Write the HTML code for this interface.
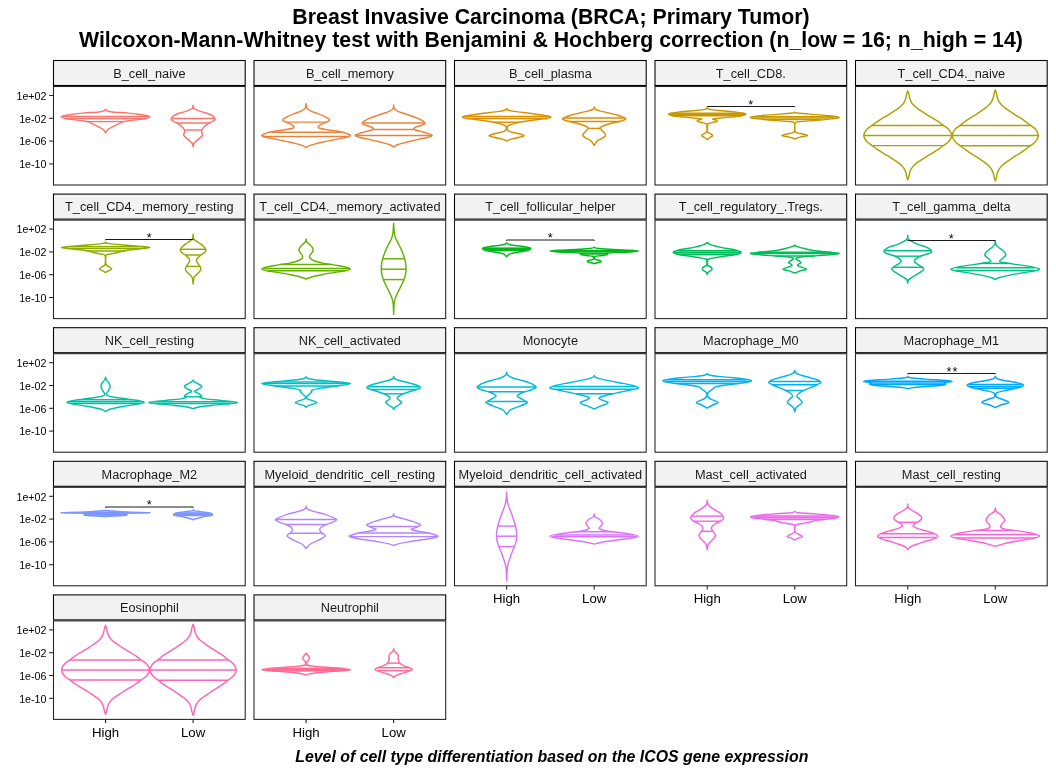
<!DOCTYPE html><html><head><meta charset="utf-8"><style>html,body{margin:0;padding:0;background:#fff;overflow:hidden;}svg{display:block;will-change:transform;}text{font-family:"Liberation Sans",Arial,sans-serif;}</style></head><body>
<svg width="1056" height="768" viewBox="0 0 1056 768">
<rect x="0" y="0" width="1056" height="768" fill="#fff"/>
<text transform="translate(551.0,23.8) scale(1,1.06)" x="0" y="0" font-size="21.33" font-weight="bold" text-anchor="middle" fill="#000">Breast Invasive Carcinoma (BRCA; Primary Tumor)</text>
<text transform="translate(550.9,46.8) scale(1,1.06)" x="0" y="0" font-size="21.33" font-weight="bold" text-anchor="middle" fill="#000">Wilcoxon-Mann-Whitney test with Benjamini &amp; Hochberg correction (n_low = 16; n_high = 14)</text>
<text x="551.8" y="761.5" font-size="15.88" font-weight="bold" font-style="italic" text-anchor="middle" fill="#000">Level of cell type differentiation based on the ICOS gene expression</text>
<rect x="53.50" y="60.50" width="191.70" height="25.00" fill="#F2F2F2" stroke="#000" stroke-width="1.07"/>
<text transform="translate(149.35,77.80) scale(1,1.04)" x="0" y="0" font-size="12.75" text-anchor="middle" fill="#1A1A1A">B_cell_naive</text>
<rect x="53.50" y="86.50" width="191.70" height="98.50" fill="#fff" stroke="#222" stroke-width="1.07"/>
<path d="M105.55,109.30 C106.00,109.63 106.73,110.82 108.25,111.30 C109.77,111.78 111.32,111.90 114.65,112.20 C117.98,112.50 124.02,112.72 128.25,113.10 C132.48,113.48 136.87,114.05 140.05,114.50 C143.23,114.95 145.72,115.35 147.35,115.80 C148.98,116.25 150.15,116.75 149.85,117.20 C149.55,117.65 147.93,118.05 145.55,118.50 C143.17,118.95 138.43,119.52 135.55,119.90 C132.67,120.28 130.37,120.50 128.25,120.80 C126.13,121.10 124.22,121.32 122.85,121.70 C121.48,122.08 121.12,122.57 120.05,123.10 C118.98,123.63 117.80,124.22 116.45,124.90 C115.10,125.58 113.38,126.43 111.95,127.20 C110.52,127.97 108.92,128.55 107.85,129.50 C106.78,130.45 105.93,132.33 105.55,132.90 L105.55,132.90 C105.17,132.33 104.32,130.45 103.25,129.50 C102.18,128.55 100.58,127.97 99.15,127.20 C97.72,126.43 96.00,125.58 94.65,124.90 C93.30,124.22 92.12,123.63 91.05,123.10 C89.98,122.57 89.62,122.08 88.25,121.70 C86.88,121.32 84.97,121.10 82.85,120.80 C80.73,120.50 78.43,120.28 75.55,119.90 C72.67,119.52 67.93,118.95 65.55,118.50 C63.17,118.05 61.55,117.65 61.25,117.20 C60.95,116.75 62.12,116.25 63.75,115.80 C65.38,115.35 67.87,114.95 71.05,114.50 C74.23,114.05 78.62,113.48 82.85,113.10 C87.08,112.72 93.12,112.50 96.45,112.20 C99.78,111.90 101.33,111.78 102.85,111.30 C104.37,110.82 105.10,109.63 105.55,109.30Z" fill="none" stroke="#F8766D" stroke-width="1.45" stroke-linejoin="round"/>
<line x1="62.50" y1="116.50" x2="148.60" y2="116.50" stroke="#F8766D" stroke-width="1.45"/>
<line x1="65.55" y1="118.50" x2="145.55" y2="118.50" stroke="#F8766D" stroke-width="1.45"/>
<line x1="87.65" y1="121.60" x2="123.45" y2="121.60" stroke="#F8766D" stroke-width="1.45"/>
<path d="M193.10,105.20 C193.22,105.75 193.47,107.85 193.80,108.50 C194.13,109.15 194.13,108.67 195.10,109.10 C196.07,109.53 197.77,110.45 199.60,111.10 C201.43,111.75 204.15,112.35 206.10,113.00 C208.05,113.65 210.00,114.35 211.30,115.00 C212.60,115.65 213.27,116.20 213.90,116.90 C214.53,117.60 215.32,118.43 215.10,119.20 C214.88,119.97 213.67,120.80 212.60,121.50 C211.53,122.20 209.95,122.65 208.70,123.40 C207.45,124.15 206.13,125.13 205.10,126.00 C204.07,126.87 203.03,127.95 202.50,128.60 C201.97,129.25 202.05,129.35 201.90,129.90 C201.75,130.45 201.50,131.13 201.60,131.90 C201.70,132.67 202.50,133.73 202.50,134.50 C202.50,135.27 202.25,135.73 201.60,136.50 C200.95,137.27 199.58,138.23 198.60,139.10 C197.62,139.97 196.50,140.95 195.70,141.70 C194.90,142.45 194.23,142.73 193.80,143.60 C193.37,144.47 193.22,146.35 193.10,146.90 L193.10,146.90 C192.98,146.35 192.83,144.47 192.40,143.60 C191.97,142.73 191.30,142.45 190.50,141.70 C189.70,140.95 188.58,139.97 187.60,139.10 C186.62,138.23 185.25,137.27 184.60,136.50 C183.95,135.73 183.70,135.27 183.70,134.50 C183.70,133.73 184.50,132.67 184.60,131.90 C184.70,131.13 184.45,130.45 184.30,129.90 C184.15,129.35 184.23,129.25 183.70,128.60 C183.17,127.95 182.13,126.87 181.10,126.00 C180.07,125.13 178.75,124.15 177.50,123.40 C176.25,122.65 174.67,122.20 173.60,121.50 C172.53,120.80 171.32,119.97 171.10,119.20 C170.88,118.43 171.67,117.60 172.30,116.90 C172.93,116.20 173.60,115.65 174.90,115.00 C176.20,114.35 178.15,113.65 180.10,113.00 C182.05,112.35 184.77,111.75 186.60,111.10 C188.43,110.45 190.13,109.53 191.10,109.10 C192.07,108.67 192.07,109.15 192.40,108.50 C192.73,107.85 192.98,105.75 193.10,105.20Z" fill="none" stroke="#F8766D" stroke-width="1.45" stroke-linejoin="round"/>
<line x1="171.49" y1="118.45" x2="214.71" y2="118.45" stroke="#F8766D" stroke-width="1.45"/>
<line x1="176.68" y1="123.00" x2="209.52" y2="123.00" stroke="#F8766D" stroke-width="1.45"/>
<line x1="184.31" y1="130.00" x2="201.88" y2="130.00" stroke="#F8766D" stroke-width="1.45"/>
<line x1="49.2" y1="95.50" x2="53.50" y2="95.50" stroke="#222" stroke-width="1.07"/>
<text x="46.4" y="99.80" font-size="10.67" text-anchor="end" fill="#000">1e+02</text>
<line x1="49.2" y1="118.30" x2="53.50" y2="118.30" stroke="#222" stroke-width="1.07"/>
<text x="46.4" y="122.60" font-size="10.67" text-anchor="end" fill="#000">1e-02</text>
<line x1="49.2" y1="141.10" x2="53.50" y2="141.10" stroke="#222" stroke-width="1.07"/>
<text x="46.4" y="145.40" font-size="10.67" text-anchor="end" fill="#000">1e-06</text>
<line x1="49.2" y1="163.90" x2="53.50" y2="163.90" stroke="#222" stroke-width="1.07"/>
<text x="46.4" y="168.20" font-size="10.67" text-anchor="end" fill="#000">1e-10</text>
<rect x="254.00" y="60.50" width="191.70" height="25.00" fill="#F2F2F2" stroke="#000" stroke-width="1.07"/>
<text transform="translate(349.85,77.80) scale(1,1.04)" x="0" y="0" font-size="12.75" text-anchor="middle" fill="#1A1A1A">B_cell_memory</text>
<rect x="254.00" y="86.50" width="191.70" height="98.50" fill="#fff" stroke="#222" stroke-width="1.07"/>
<path d="M306.10,103.60 C306.25,104.37 306.25,106.98 307.00,108.20 C307.75,109.42 308.78,110.00 310.60,110.90 C312.42,111.80 315.62,112.68 317.90,113.60 C320.18,114.52 322.55,115.57 324.30,116.40 C326.05,117.23 327.57,117.92 328.40,118.60 C329.23,119.28 329.68,119.88 329.30,120.50 C328.92,121.12 327.38,121.70 326.10,122.30 C324.82,122.90 322.88,123.42 321.60,124.10 C320.32,124.78 318.72,125.72 318.40,126.40 C318.08,127.08 317.97,127.60 319.70,128.20 C321.43,128.80 325.32,129.40 328.80,130.00 C332.28,130.60 337.57,131.20 340.60,131.80 C343.63,132.40 345.37,132.98 347.00,133.60 C348.63,134.22 350.55,134.88 350.40,135.50 C350.25,136.12 348.33,136.70 346.10,137.30 C343.87,137.90 340.33,138.42 337.00,139.10 C333.67,139.78 329.58,140.65 326.10,141.40 C322.62,142.15 318.98,142.85 316.10,143.60 C313.22,144.35 310.47,145.22 308.80,145.90 C307.13,146.58 306.55,147.40 306.10,147.70 L306.10,147.70 C305.65,147.40 305.07,146.58 303.40,145.90 C301.73,145.22 298.98,144.35 296.10,143.60 C293.22,142.85 289.58,142.15 286.10,141.40 C282.62,140.65 278.53,139.78 275.20,139.10 C271.87,138.42 268.33,137.90 266.10,137.30 C263.87,136.70 261.95,136.12 261.80,135.50 C261.65,134.88 263.57,134.22 265.20,133.60 C266.83,132.98 268.57,132.40 271.60,131.80 C274.63,131.20 279.92,130.60 283.40,130.00 C286.88,129.40 290.77,128.80 292.50,128.20 C294.23,127.60 294.12,127.08 293.80,126.40 C293.48,125.72 291.88,124.78 290.60,124.10 C289.32,123.42 287.38,122.90 286.10,122.30 C284.82,121.70 283.28,121.12 282.90,120.50 C282.52,119.88 282.97,119.28 283.80,118.60 C284.63,117.92 286.15,117.23 287.90,116.40 C289.65,115.57 292.02,114.52 294.30,113.60 C296.58,112.68 299.78,111.80 301.60,110.90 C303.42,110.00 304.45,109.42 305.20,108.20 C305.95,106.98 305.95,104.37 306.10,103.60Z" fill="none" stroke="#EC8239" stroke-width="1.45" stroke-linejoin="round"/>
<line x1="285.60" y1="122.10" x2="326.60" y2="122.10" stroke="#EC8239" stroke-width="1.45"/>
<line x1="271.60" y1="132.20" x2="340.60" y2="132.20" stroke="#EC8239" stroke-width="1.45"/>
<line x1="263.40" y1="136.50" x2="348.80" y2="136.50" stroke="#EC8239" stroke-width="1.45"/>
<path d="M393.65,105.00 C393.80,105.68 393.63,107.97 394.55,109.10 C395.47,110.23 397.03,110.90 399.15,111.80 C401.27,112.70 404.23,113.43 407.25,114.50 C410.27,115.57 414.67,117.13 417.25,118.20 C419.83,119.27 421.45,120.02 422.75,120.90 C424.05,121.78 425.35,122.73 425.05,123.50 C424.75,124.27 422.55,124.87 420.95,125.50 C419.35,126.13 416.58,126.67 415.45,127.30 C414.32,127.93 413.23,128.62 414.15,129.30 C415.07,129.98 418.62,130.68 420.95,131.40 C423.28,132.12 426.27,132.92 428.15,133.60 C430.03,134.28 432.25,134.88 432.25,135.50 C432.25,136.12 430.33,136.70 428.15,137.30 C425.97,137.90 422.48,138.35 419.15,139.10 C415.82,139.85 411.65,140.90 408.15,141.80 C404.65,142.70 400.57,143.67 398.15,144.50 C395.73,145.33 394.40,146.42 393.65,146.80 L393.65,146.80 C392.90,146.42 391.57,145.33 389.15,144.50 C386.73,143.67 382.65,142.70 379.15,141.80 C375.65,140.90 371.48,139.85 368.15,139.10 C364.82,138.35 361.33,137.90 359.15,137.30 C356.97,136.70 355.05,136.12 355.05,135.50 C355.05,134.88 357.27,134.28 359.15,133.60 C361.03,132.92 364.02,132.12 366.35,131.40 C368.68,130.68 372.23,129.98 373.15,129.30 C374.07,128.62 372.98,127.93 371.85,127.30 C370.72,126.67 367.95,126.13 366.35,125.50 C364.75,124.87 362.55,124.27 362.25,123.50 C361.95,122.73 363.25,121.78 364.55,120.90 C365.85,120.02 367.47,119.27 370.05,118.20 C372.63,117.13 377.03,115.57 380.05,114.50 C383.07,113.43 386.03,112.70 388.15,111.80 C390.27,110.90 391.83,110.23 392.75,109.10 C393.67,107.97 393.50,105.68 393.65,105.00Z" fill="none" stroke="#EC8239" stroke-width="1.45" stroke-linejoin="round"/>
<line x1="362.75" y1="122.90" x2="424.55" y2="122.90" stroke="#EC8239" stroke-width="1.45"/>
<line x1="373.15" y1="129.50" x2="414.15" y2="129.50" stroke="#EC8239" stroke-width="1.45"/>
<line x1="355.45" y1="135.50" x2="431.85" y2="135.50" stroke="#EC8239" stroke-width="1.45"/>
<rect x="454.50" y="60.50" width="191.70" height="25.00" fill="#F2F2F2" stroke="#000" stroke-width="1.07"/>
<text transform="translate(550.35,77.80) scale(1,1.04)" x="0" y="0" font-size="12.75" text-anchor="middle" fill="#1A1A1A">B_cell_plasma</text>
<rect x="454.50" y="86.50" width="191.70" height="98.50" fill="#fff" stroke="#222" stroke-width="1.07"/>
<path d="M506.65,108.60 C506.88,108.83 506.83,109.53 508.05,110.00 C509.27,110.47 511.15,110.95 513.95,111.40 C516.75,111.85 520.77,112.18 524.85,112.70 C528.93,113.22 534.82,113.97 538.45,114.50 C542.08,115.03 544.58,115.43 546.65,115.90 C548.72,116.37 551.15,116.85 550.85,117.30 C550.55,117.75 547.67,118.15 544.85,118.60 C542.03,119.05 537.73,119.47 533.95,120.00 C530.17,120.53 525.48,121.20 522.15,121.80 C518.82,122.40 516.23,122.98 513.95,123.60 C511.67,124.22 509.58,124.88 508.45,125.50 C507.32,126.12 507.37,126.70 507.15,127.30 C506.93,127.90 506.78,128.42 507.15,129.10 C507.52,129.78 507.77,130.72 509.35,131.40 C510.93,132.08 514.22,132.52 516.65,133.20 C519.08,133.88 523.50,134.82 523.95,135.50 C524.40,136.18 521.48,136.70 519.35,137.30 C517.22,137.90 513.27,138.50 511.15,139.10 C509.03,139.70 507.40,140.60 506.65,140.90 L506.65,140.90 C505.90,140.60 504.27,139.70 502.15,139.10 C500.03,138.50 496.08,137.90 493.95,137.30 C491.82,136.70 488.90,136.18 489.35,135.50 C489.80,134.82 494.22,133.88 496.65,133.20 C499.08,132.52 502.37,132.08 503.95,131.40 C505.53,130.72 505.78,129.78 506.15,129.10 C506.52,128.42 506.37,127.90 506.15,127.30 C505.93,126.70 505.98,126.12 504.85,125.50 C503.72,124.88 501.63,124.22 499.35,123.60 C497.07,122.98 494.48,122.40 491.15,121.80 C487.82,121.20 483.13,120.53 479.35,120.00 C475.57,119.47 471.27,119.05 468.45,118.60 C465.63,118.15 462.75,117.75 462.45,117.30 C462.15,116.85 464.58,116.37 466.65,115.90 C468.72,115.43 471.22,115.03 474.85,114.50 C478.48,113.97 484.37,113.22 488.45,112.70 C492.53,112.18 496.55,111.85 499.35,111.40 C502.15,110.95 504.03,110.47 505.25,110.00 C506.47,109.53 506.42,108.83 506.65,108.60Z" fill="none" stroke="#DB8E00" stroke-width="1.45" stroke-linejoin="round"/>
<line x1="463.95" y1="116.40" x2="549.35" y2="116.40" stroke="#DB8E00" stroke-width="1.45"/>
<line x1="466.15" y1="118.50" x2="547.15" y2="118.50" stroke="#DB8E00" stroke-width="1.45"/>
<line x1="493.15" y1="122.20" x2="520.15" y2="122.20" stroke="#DB8E00" stroke-width="1.45"/>
<path d="M594.20,106.80 C594.35,107.18 594.18,108.42 595.10,109.10 C596.02,109.78 597.58,110.30 599.70,110.90 C601.82,111.50 604.93,112.02 607.80,112.70 C610.67,113.38 614.32,114.23 616.90,115.00 C619.48,115.77 621.85,116.58 623.30,117.30 C624.75,118.02 626.20,118.62 625.60,119.30 C625.00,119.98 622.05,120.75 619.70,121.40 C617.35,122.05 614.08,122.52 611.50,123.20 C608.92,123.88 606.10,124.75 604.20,125.50 C602.30,126.25 600.55,126.95 600.10,127.70 C599.65,128.45 600.82,129.17 601.50,130.00 C602.18,130.83 603.52,131.78 604.20,132.70 C604.88,133.62 605.90,134.58 605.60,135.50 C605.30,136.42 603.77,137.30 602.40,138.20 C601.03,139.10 598.77,139.68 597.40,140.90 C596.03,142.12 594.73,144.73 594.20,145.50 L594.20,145.50 C593.67,144.73 592.37,142.12 591.00,140.90 C589.63,139.68 587.37,139.10 586.00,138.20 C584.63,137.30 583.10,136.42 582.80,135.50 C582.50,134.58 583.52,133.62 584.20,132.70 C584.88,131.78 586.22,130.83 586.90,130.00 C587.58,129.17 588.75,128.45 588.30,127.70 C587.85,126.95 586.10,126.25 584.20,125.50 C582.30,124.75 579.48,123.88 576.90,123.20 C574.32,122.52 571.05,122.05 568.70,121.40 C566.35,120.75 563.40,119.98 562.80,119.30 C562.20,118.62 563.65,118.02 565.10,117.30 C566.55,116.58 568.92,115.77 571.50,115.00 C574.08,114.23 577.73,113.38 580.60,112.70 C583.47,112.02 586.58,111.50 588.70,110.90 C590.82,110.30 592.38,109.78 593.30,109.10 C594.22,108.42 594.05,107.18 594.20,106.80Z" fill="none" stroke="#DB8E00" stroke-width="1.45" stroke-linejoin="round"/>
<line x1="564.20" y1="118.00" x2="624.20" y2="118.00" stroke="#DB8E00" stroke-width="1.45"/>
<line x1="567.80" y1="121.40" x2="620.60" y2="121.40" stroke="#DB8E00" stroke-width="1.45"/>
<line x1="588.40" y1="128.40" x2="600.00" y2="128.40" stroke="#DB8E00" stroke-width="1.45"/>
<rect x="655.00" y="60.50" width="191.70" height="25.00" fill="#F2F2F2" stroke="#000" stroke-width="1.07"/>
<text transform="translate(750.85,77.80) scale(1,1.04)" x="0" y="0" font-size="12.75" text-anchor="middle" fill="#1A1A1A">T_cell_CD8.</text>
<rect x="655.00" y="86.50" width="191.70" height="98.50" fill="#fff" stroke="#222" stroke-width="1.07"/>
<path d="M707.20,107.90 C707.65,108.15 707.63,108.93 709.90,109.40 C712.17,109.87 716.40,110.25 720.80,110.70 C725.20,111.15 732.35,111.63 736.30,112.10 C740.25,112.57 742.97,113.12 744.50,113.50 C746.03,113.88 745.97,114.03 745.50,114.40 C745.03,114.77 744.30,115.25 741.70,115.70 C739.10,116.15 733.98,116.63 729.90,117.10 C725.82,117.57 720.07,118.17 717.20,118.50 C714.33,118.83 713.00,118.88 712.70,119.10 C712.40,119.32 714.65,119.45 715.40,119.80 C716.15,120.15 717.65,120.75 717.20,121.20 C716.75,121.65 714.22,122.05 712.70,122.50 C711.18,122.95 708.96,123.43 708.10,123.90 C707.24,124.37 707.64,124.02 707.55,125.30 C707.46,126.58 707.16,130.23 707.55,131.60 C707.94,132.97 709.04,132.85 709.90,133.50 C710.76,134.15 712.70,134.83 712.70,135.50 C712.70,136.17 710.82,136.78 709.90,137.50 C708.98,138.22 707.65,139.42 707.20,139.80 L707.20,139.80 C706.75,139.42 705.42,138.22 704.50,137.50 C703.58,136.78 701.70,136.17 701.70,135.50 C701.70,134.83 703.64,134.15 704.50,133.50 C705.36,132.85 706.46,132.97 706.85,131.60 C707.24,130.23 706.94,126.58 706.85,125.30 C706.76,124.02 707.16,124.37 706.30,123.90 C705.44,123.43 703.22,122.95 701.70,122.50 C700.18,122.05 697.65,121.65 697.20,121.20 C696.75,120.75 698.25,120.15 699.00,119.80 C699.75,119.45 702.00,119.32 701.70,119.10 C701.40,118.88 700.07,118.83 697.20,118.50 C694.33,118.17 688.58,117.57 684.50,117.10 C680.42,116.63 675.30,116.15 672.70,115.70 C670.10,115.25 669.37,114.77 668.90,114.40 C668.43,114.03 668.37,113.88 669.90,113.50 C671.43,113.12 674.15,112.57 678.10,112.10 C682.05,111.63 689.20,111.15 693.60,110.70 C698.00,110.25 702.23,109.87 704.50,109.40 C706.77,108.93 706.75,108.15 707.20,107.90Z" fill="none" stroke="#C79800" stroke-width="1.45" stroke-linejoin="round"/>
<line x1="670.70" y1="113.20" x2="743.70" y2="113.20" stroke="#C79800" stroke-width="1.45"/>
<line x1="669.20" y1="114.50" x2="745.20" y2="114.50" stroke="#C79800" stroke-width="1.45"/>
<line x1="673.20" y1="115.80" x2="741.20" y2="115.80" stroke="#C79800" stroke-width="1.45"/>
<path d="M794.75,112.10 C795.20,112.25 794.42,112.62 797.45,113.00 C800.48,113.38 807.65,113.95 812.95,114.40 C818.25,114.85 824.90,115.20 829.25,115.70 C833.60,116.20 838.73,116.87 839.05,117.40 C839.37,117.93 834.75,118.42 831.15,118.90 C827.55,119.38 822.60,119.85 817.45,120.30 C812.30,120.75 803.95,121.15 800.25,121.60 C796.55,122.05 796.08,121.33 795.25,123.00 C794.42,124.67 794.42,129.85 795.25,131.60 C796.08,133.35 798.18,132.85 800.25,133.50 C802.32,134.15 807.65,134.90 807.65,135.50 C807.65,136.10 802.40,136.53 800.25,137.10 C798.10,137.67 795.67,138.60 794.75,138.90 L794.75,138.90 C793.83,138.60 791.40,137.67 789.25,137.10 C787.10,136.53 781.85,136.10 781.85,135.50 C781.85,134.90 787.18,134.15 789.25,133.50 C791.32,132.85 793.42,133.35 794.25,131.60 C795.08,129.85 795.08,124.67 794.25,123.00 C793.42,121.33 792.95,122.05 789.25,121.60 C785.55,121.15 777.20,120.75 772.05,120.30 C766.90,119.85 761.95,119.38 758.35,118.90 C754.75,118.42 750.13,117.93 750.45,117.40 C750.77,116.87 755.90,116.20 760.25,115.70 C764.60,115.20 771.25,114.85 776.55,114.40 C781.85,113.95 789.02,113.38 792.05,113.00 C795.08,112.62 794.30,112.25 794.75,112.10Z" fill="none" stroke="#C79800" stroke-width="1.45" stroke-linejoin="round"/>
<line x1="752.75" y1="116.60" x2="836.75" y2="116.60" stroke="#C79800" stroke-width="1.45"/>
<line x1="754.75" y1="118.00" x2="834.75" y2="118.00" stroke="#C79800" stroke-width="1.45"/>
<line x1="767.75" y1="119.60" x2="821.75" y2="119.60" stroke="#C79800" stroke-width="1.45"/>
<path d="M707.20,107.10 L707.20,106.50 L794.75,106.50 L794.75,107.10" fill="none" stroke="#1a1a1a" stroke-width="1.0"/>
<text x="750.77" y="108.50" font-size="12.75" text-anchor="middle" fill="#000">*</text>
<rect x="855.50" y="60.50" width="191.70" height="25.00" fill="#F2F2F2" stroke="#000" stroke-width="1.07"/>
<text transform="translate(951.35,77.80) scale(1,1.04)" x="0" y="0" font-size="12.75" text-anchor="middle" fill="#1A1A1A">T_cell_CD4._naive</text>
<rect x="855.50" y="86.50" width="191.70" height="98.50" fill="#fff" stroke="#222" stroke-width="1.07"/>
<path d="M907.75,90.90 C907.95,91.50 908.62,93.25 908.95,94.50 C909.28,95.75 909.35,97.10 909.75,98.40 C910.15,99.70 910.64,101.10 911.35,102.30 C912.06,103.50 912.90,104.52 914.00,105.60 C915.10,106.68 916.46,107.72 917.95,108.80 C919.44,109.88 921.28,111.02 922.95,112.10 C924.62,113.18 926.18,114.22 927.95,115.30 C929.72,116.38 931.75,117.50 933.55,118.60 C935.35,119.70 937.42,120.98 938.75,121.90 C940.08,122.82 940.55,123.35 941.55,124.10 C942.55,124.85 943.63,125.58 944.75,126.40 C945.87,127.22 947.25,128.02 948.25,129.00 C949.25,129.98 950.18,131.22 950.75,132.30 C951.32,133.38 951.65,134.43 951.65,135.50 C951.65,136.57 951.32,137.62 950.75,138.70 C950.18,139.78 949.25,141.02 948.25,142.00 C947.25,142.98 945.87,143.78 944.75,144.60 C943.63,145.42 942.55,146.15 941.55,146.90 C940.55,147.65 940.08,148.18 938.75,149.10 C937.42,150.02 935.35,151.30 933.55,152.40 C931.75,153.50 929.72,154.62 927.95,155.70 C926.18,156.78 924.62,157.82 922.95,158.90 C921.28,159.98 919.44,161.12 917.95,162.20 C916.46,163.28 915.10,164.32 914.00,165.40 C912.90,166.48 912.06,167.55 911.35,168.70 C910.64,169.85 910.15,171.05 909.75,172.30 C909.35,173.55 909.28,174.95 908.95,176.20 C908.62,177.45 907.95,179.20 907.75,179.80 L907.75,179.80 C907.55,179.20 906.88,177.45 906.55,176.20 C906.22,174.95 906.15,173.55 905.75,172.30 C905.35,171.05 904.86,169.85 904.15,168.70 C903.44,167.55 902.60,166.48 901.50,165.40 C900.40,164.32 899.04,163.28 897.55,162.20 C896.06,161.12 894.22,159.98 892.55,158.90 C890.88,157.82 889.32,156.78 887.55,155.70 C885.78,154.62 883.75,153.50 881.95,152.40 C880.15,151.30 878.08,150.02 876.75,149.10 C875.42,148.18 874.95,147.65 873.95,146.90 C872.95,146.15 871.87,145.42 870.75,144.60 C869.63,143.78 868.25,142.98 867.25,142.00 C866.25,141.02 865.32,139.78 864.75,138.70 C864.18,137.62 863.85,136.57 863.85,135.50 C863.85,134.43 864.18,133.38 864.75,132.30 C865.32,131.22 866.25,129.98 867.25,129.00 C868.25,128.02 869.63,127.22 870.75,126.40 C871.87,125.58 872.95,124.85 873.95,124.10 C874.95,123.35 875.42,122.82 876.75,121.90 C878.08,120.98 880.15,119.70 881.95,118.60 C883.75,117.50 885.78,116.38 887.55,115.30 C889.32,114.22 890.88,113.18 892.55,112.10 C894.22,111.02 896.06,109.88 897.55,108.80 C899.04,107.72 900.40,106.68 901.50,105.60 C902.60,104.52 903.44,103.50 904.15,102.30 C904.86,101.10 905.35,99.70 905.75,98.40 C906.15,97.10 906.22,95.75 906.55,94.50 C906.88,93.25 907.55,91.50 907.75,90.90Z" fill="none" stroke="#AEA200" stroke-width="1.45" stroke-linejoin="round"/>
<line x1="872.00" y1="125.50" x2="943.50" y2="125.50" stroke="#AEA200" stroke-width="1.45"/>
<line x1="863.85" y1="135.50" x2="951.65" y2="135.50" stroke="#AEA200" stroke-width="1.45"/>
<line x1="872.14" y1="145.60" x2="943.36" y2="145.60" stroke="#AEA200" stroke-width="1.45"/>
<path d="M995.30,89.79 C995.50,90.40 996.15,92.19 996.48,93.47 C996.81,94.75 996.87,96.14 997.26,97.47 C997.65,98.80 998.14,100.24 998.83,101.47 C999.52,102.70 1000.34,103.74 1001.42,104.85 C1002.50,105.96 1003.84,107.02 1005.30,108.13 C1006.76,109.24 1008.57,110.41 1010.20,111.52 C1011.83,112.63 1013.37,113.69 1015.10,114.80 C1016.83,115.91 1018.82,117.05 1020.58,118.18 C1022.34,119.31 1024.37,120.62 1025.68,121.56 C1026.99,122.50 1027.44,123.04 1028.42,123.81 C1029.40,124.58 1030.46,125.33 1031.56,126.17 C1032.65,127.01 1034.01,127.83 1034.99,128.84 C1035.97,129.85 1036.88,131.11 1037.44,132.22 C1038.00,133.33 1038.32,134.41 1038.32,135.50 C1038.32,136.59 1038.00,137.67 1037.44,138.78 C1036.88,139.89 1035.97,141.15 1034.99,142.16 C1034.01,143.17 1032.65,143.99 1031.56,144.83 C1030.46,145.67 1029.40,146.42 1028.42,147.19 C1027.44,147.96 1026.99,148.50 1025.68,149.44 C1024.37,150.38 1022.34,151.69 1020.58,152.82 C1018.82,153.95 1016.83,155.09 1015.10,156.20 C1013.37,157.31 1011.83,158.38 1010.20,159.49 C1008.57,160.60 1006.76,161.76 1005.30,162.87 C1003.84,163.98 1002.50,165.04 1001.42,166.15 C1000.34,167.26 999.52,168.35 998.83,169.53 C998.14,170.71 997.65,171.94 997.26,173.22 C996.87,174.50 996.81,175.94 996.48,177.22 C996.15,178.50 995.50,180.29 995.30,180.91 L995.30,180.91 C995.10,180.29 994.45,178.50 994.12,177.22 C993.79,175.94 993.73,174.50 993.34,173.22 C992.95,171.94 992.46,170.71 991.77,169.53 C991.08,168.35 990.26,167.26 989.18,166.15 C988.10,165.04 986.76,163.98 985.30,162.87 C983.84,161.76 982.03,160.60 980.40,159.49 C978.77,158.38 977.23,157.31 975.50,156.20 C973.77,155.09 971.78,153.95 970.02,152.82 C968.26,151.69 966.23,150.38 964.92,149.44 C963.61,148.50 963.16,147.96 962.18,147.19 C961.20,146.42 960.13,145.67 959.04,144.83 C957.94,143.99 956.59,143.17 955.61,142.16 C954.63,141.15 953.71,139.89 953.16,138.78 C952.61,137.67 952.28,136.59 952.28,135.50 C952.28,134.41 952.61,133.33 953.16,132.22 C953.71,131.11 954.63,129.85 955.61,128.84 C956.59,127.83 957.94,127.01 959.04,126.17 C960.13,125.33 961.20,124.58 962.18,123.81 C963.16,123.04 963.61,122.50 964.92,121.56 C966.23,120.62 968.26,119.31 970.02,118.18 C971.78,117.05 973.77,115.91 975.50,114.80 C977.23,113.69 978.77,112.63 980.40,111.52 C982.03,110.41 983.84,109.24 985.30,108.13 C986.76,107.02 988.10,105.96 989.18,104.85 C990.26,103.74 991.08,102.70 991.77,101.47 C992.46,100.24 992.95,98.80 993.34,97.47 C993.73,96.14 993.79,94.75 994.12,93.47 C994.45,92.19 995.10,90.40 995.30,89.79Z" fill="none" stroke="#AEA200" stroke-width="1.45" stroke-linejoin="round"/>
<line x1="959.93" y1="125.50" x2="1030.67" y2="125.50" stroke="#AEA200" stroke-width="1.45"/>
<line x1="952.28" y1="135.50" x2="1038.32" y2="135.50" stroke="#AEA200" stroke-width="1.45"/>
<line x1="960.33" y1="145.80" x2="1030.27" y2="145.80" stroke="#AEA200" stroke-width="1.45"/>
<rect x="53.50" y="194.10" width="191.70" height="25.00" fill="#F2F2F2" stroke="#000" stroke-width="1.07"/>
<text transform="translate(149.35,211.40) scale(1,1.04)" x="0" y="0" font-size="12.75" text-anchor="middle" fill="#1A1A1A">T_cell_CD4._memory_resting</text>
<rect x="53.50" y="220.10" width="191.70" height="98.50" fill="#fff" stroke="#222" stroke-width="1.07"/>
<path d="M105.55,242.30 C106.15,242.52 106.12,243.15 109.15,243.60 C112.18,244.05 118.28,244.53 123.75,245.00 C129.22,245.47 137.60,245.98 141.95,246.40 C146.30,246.82 149.85,247.13 149.85,247.50 C149.85,247.87 145.55,248.18 141.95,248.60 C138.35,249.02 131.58,249.53 128.25,250.00 C124.92,250.47 123.92,250.95 121.95,251.40 C119.98,251.85 118.43,252.25 116.45,252.70 C114.47,253.15 111.78,253.63 110.05,254.10 C108.32,254.57 106.72,253.77 106.05,255.50 C105.38,257.23 105.53,262.62 106.05,264.50 C106.57,266.38 108.22,266.03 109.15,266.80 C110.08,267.57 111.80,268.42 111.65,269.10 C111.50,269.78 109.27,270.33 108.25,270.90 C107.23,271.47 106.00,272.23 105.55,272.50 L105.55,272.50 C105.10,272.23 103.87,271.47 102.85,270.90 C101.83,270.33 99.60,269.78 99.45,269.10 C99.30,268.42 101.02,267.57 101.95,266.80 C102.88,266.03 104.53,266.38 105.05,264.50 C105.57,262.62 105.72,257.23 105.05,255.50 C104.38,253.77 102.78,254.57 101.05,254.10 C99.32,253.63 96.63,253.15 94.65,252.70 C92.67,252.25 91.12,251.85 89.15,251.40 C87.18,250.95 86.18,250.47 82.85,250.00 C79.52,249.53 72.75,249.02 69.15,248.60 C65.55,248.18 61.25,247.87 61.25,247.50 C61.25,247.13 64.80,246.82 69.15,246.40 C73.50,245.98 81.88,245.47 87.35,245.00 C92.82,244.53 98.92,244.05 101.95,243.60 C104.98,243.15 104.95,242.52 105.55,242.30Z" fill="none" stroke="#8FAA00" stroke-width="1.45" stroke-linejoin="round"/>
<line x1="66.28" y1="246.80" x2="144.82" y2="246.80" stroke="#8FAA00" stroke-width="1.45"/>
<line x1="69.15" y1="248.60" x2="141.95" y2="248.60" stroke="#8FAA00" stroke-width="1.45"/>
<line x1="86.90" y1="250.90" x2="124.20" y2="250.90" stroke="#8FAA00" stroke-width="1.45"/>
<path d="M193.10,234.30 C193.17,234.95 193.12,237.17 193.50,238.20 C193.88,239.23 194.30,239.60 195.40,240.50 C196.50,241.40 198.67,242.55 200.10,243.60 C201.53,244.65 203.08,245.88 204.00,246.80 C204.92,247.72 205.30,248.43 205.60,249.10 C205.90,249.77 206.07,250.15 205.80,250.80 C205.53,251.45 204.95,252.18 204.00,253.00 C203.05,253.82 201.27,254.72 200.10,255.70 C198.93,256.68 197.58,257.98 197.00,258.90 C196.42,259.82 196.40,260.37 196.60,261.20 C196.80,262.03 197.62,262.98 198.20,263.90 C198.78,264.82 199.67,265.85 200.10,266.70 C200.53,267.55 200.92,268.15 200.80,269.00 C200.68,269.85 200.17,270.82 199.40,271.80 C198.63,272.78 197.12,273.87 196.20,274.90 C195.28,275.93 194.42,276.50 193.90,278.00 C193.38,279.50 193.23,282.92 193.10,283.90 L193.10,283.90 C192.97,282.92 192.82,279.50 192.30,278.00 C191.78,276.50 190.92,275.93 190.00,274.90 C189.08,273.87 187.57,272.78 186.80,271.80 C186.03,270.82 185.52,269.85 185.40,269.00 C185.28,268.15 185.67,267.55 186.10,266.70 C186.53,265.85 187.42,264.82 188.00,263.90 C188.58,262.98 189.40,262.03 189.60,261.20 C189.80,260.37 189.78,259.82 189.20,258.90 C188.62,257.98 187.27,256.68 186.10,255.70 C184.93,254.72 183.15,253.82 182.20,253.00 C181.25,252.18 180.67,251.45 180.40,250.80 C180.13,250.15 180.30,249.77 180.60,249.10 C180.90,248.43 181.28,247.72 182.20,246.80 C183.12,245.88 184.67,244.65 186.10,243.60 C187.53,242.55 189.70,241.40 190.80,240.50 C191.90,239.60 192.32,239.23 192.70,238.20 C193.08,237.17 193.03,234.95 193.10,234.30Z" fill="none" stroke="#8FAA00" stroke-width="1.45" stroke-linejoin="round"/>
<line x1="180.58" y1="249.30" x2="205.62" y2="249.30" stroke="#8FAA00" stroke-width="1.45"/>
<line x1="185.09" y1="255.00" x2="201.11" y2="255.00" stroke="#8FAA00" stroke-width="1.45"/>
<line x1="186.30" y1="266.40" x2="199.90" y2="266.40" stroke="#8FAA00" stroke-width="1.45"/>
<path d="M105.55,240.30 L105.55,239.50 L193.10,239.50 L193.10,240.30" fill="none" stroke="#1a1a1a" stroke-width="1.0"/>
<text x="149.12" y="241.50" font-size="12.75" text-anchor="middle" fill="#000">*</text>
<line x1="49.2" y1="229.10" x2="53.50" y2="229.10" stroke="#222" stroke-width="1.07"/>
<text x="46.4" y="233.40" font-size="10.67" text-anchor="end" fill="#000">1e+02</text>
<line x1="49.2" y1="251.90" x2="53.50" y2="251.90" stroke="#222" stroke-width="1.07"/>
<text x="46.4" y="256.20" font-size="10.67" text-anchor="end" fill="#000">1e-02</text>
<line x1="49.2" y1="274.70" x2="53.50" y2="274.70" stroke="#222" stroke-width="1.07"/>
<text x="46.4" y="279.00" font-size="10.67" text-anchor="end" fill="#000">1e-06</text>
<line x1="49.2" y1="297.50" x2="53.50" y2="297.50" stroke="#222" stroke-width="1.07"/>
<text x="46.4" y="301.80" font-size="10.67" text-anchor="end" fill="#000">1e-10</text>
<rect x="254.00" y="194.10" width="191.70" height="25.00" fill="#F2F2F2" stroke="#000" stroke-width="1.07"/>
<text transform="translate(349.85,211.40) scale(1,1.04)" x="0" y="0" font-size="12.75" text-anchor="middle" fill="#1A1A1A">T_cell_CD4._memory_activated</text>
<rect x="254.00" y="220.10" width="191.70" height="98.50" fill="#fff" stroke="#222" stroke-width="1.07"/>
<path d="M306.10,239.00 C306.25,239.53 306.32,241.22 307.00,242.20 C307.68,243.18 309.28,244.00 310.20,244.90 C311.12,245.80 312.00,246.68 312.50,247.60 C313.00,248.52 313.35,249.48 313.20,250.40 C313.05,251.32 312.18,252.20 311.60,253.10 C311.02,254.00 309.93,254.90 309.70,255.80 C309.47,256.70 309.28,257.58 310.20,258.50 C311.12,259.42 313.15,260.53 315.20,261.30 C317.25,262.07 319.47,262.50 322.50,263.10 C325.53,263.70 329.77,264.30 333.40,264.90 C337.03,265.50 341.47,266.02 344.30,266.70 C347.13,267.38 350.25,268.32 350.40,269.00 C350.55,269.68 348.03,270.20 345.20,270.80 C342.37,271.40 337.18,271.98 333.40,272.60 C329.62,273.22 325.98,273.82 322.50,274.50 C319.02,275.18 315.23,275.95 312.50,276.70 C309.77,277.45 307.17,278.62 306.10,279.00 L306.10,279.00 C305.03,278.62 302.43,277.45 299.70,276.70 C296.97,275.95 293.18,275.18 289.70,274.50 C286.22,273.82 282.58,273.22 278.80,272.60 C275.02,271.98 269.83,271.40 267.00,270.80 C264.17,270.20 261.65,269.68 261.80,269.00 C261.95,268.32 265.07,267.38 267.90,266.70 C270.73,266.02 275.17,265.50 278.80,264.90 C282.43,264.30 286.67,263.70 289.70,263.10 C292.73,262.50 294.95,262.07 297.00,261.30 C299.05,260.53 301.08,259.42 302.00,258.50 C302.92,257.58 302.73,256.70 302.50,255.80 C302.27,254.90 301.18,254.00 300.60,253.10 C300.02,252.20 299.15,251.32 299.00,250.40 C298.85,249.48 299.20,248.52 299.70,247.60 C300.20,246.68 301.08,245.80 302.00,244.90 C302.92,244.00 304.52,243.18 305.20,242.20 C305.88,241.22 305.95,239.53 306.10,239.00Z" fill="none" stroke="#64B200" stroke-width="1.45" stroke-linejoin="round"/>
<line x1="281.22" y1="264.50" x2="330.98" y2="264.50" stroke="#64B200" stroke-width="1.45"/>
<line x1="263.39" y1="268.40" x2="348.81" y2="268.40" stroke="#64B200" stroke-width="1.45"/>
<line x1="267.00" y1="270.80" x2="345.20" y2="270.80" stroke="#64B200" stroke-width="1.45"/>
<path d="M393.65,223.30 C393.70,224.05 393.83,226.18 393.95,227.80 C394.07,229.42 394.07,231.27 394.35,233.00 C394.63,234.73 395.00,236.47 395.65,238.20 C396.30,239.93 397.38,241.67 398.25,243.40 C399.12,245.13 400.05,246.85 400.85,248.60 C401.65,250.35 402.40,252.15 403.05,253.90 C403.70,255.65 404.30,257.37 404.75,259.10 C405.20,260.83 405.53,262.68 405.75,264.30 C405.97,265.92 406.07,267.28 406.05,268.80 C406.03,270.32 405.93,271.77 405.65,273.40 C405.37,275.03 404.93,276.87 404.35,278.60 C403.77,280.33 402.95,282.07 402.15,283.80 C401.35,285.53 400.42,287.27 399.55,289.00 C398.68,290.73 397.72,292.47 396.95,294.20 C396.18,295.93 395.43,297.67 394.95,299.40 C394.47,301.13 394.27,302.10 394.05,304.60 C393.83,307.10 393.72,312.77 393.65,314.40 L393.65,314.40 C393.58,312.77 393.47,307.10 393.25,304.60 C393.03,302.10 392.83,301.13 392.35,299.40 C391.87,297.67 391.12,295.93 390.35,294.20 C389.58,292.47 388.62,290.73 387.75,289.00 C386.88,287.27 385.95,285.53 385.15,283.80 C384.35,282.07 383.53,280.33 382.95,278.60 C382.37,276.87 381.93,275.03 381.65,273.40 C381.37,271.77 381.27,270.32 381.25,268.80 C381.23,267.28 381.33,265.92 381.55,264.30 C381.77,262.68 382.10,260.83 382.55,259.10 C383.00,257.37 383.60,255.65 384.25,253.90 C384.90,252.15 385.65,250.35 386.45,248.60 C387.25,246.85 388.18,245.13 389.05,243.40 C389.92,241.67 391.00,239.93 391.65,238.20 C392.30,236.47 392.67,234.73 392.95,233.00 C393.23,231.27 393.23,229.42 393.35,227.80 C393.47,226.18 393.60,224.05 393.65,223.30Z" fill="none" stroke="#64B200" stroke-width="1.45" stroke-linejoin="round"/>
<line x1="382.65" y1="258.80" x2="404.65" y2="258.80" stroke="#64B200" stroke-width="1.45"/>
<line x1="381.28" y1="269.20" x2="406.02" y2="269.20" stroke="#64B200" stroke-width="1.45"/>
<line x1="383.37" y1="279.60" x2="403.93" y2="279.60" stroke="#64B200" stroke-width="1.45"/>
<rect x="454.50" y="194.10" width="191.70" height="25.00" fill="#F2F2F2" stroke="#000" stroke-width="1.07"/>
<text transform="translate(550.35,211.40) scale(1,1.04)" x="0" y="0" font-size="12.75" text-anchor="middle" fill="#1A1A1A">T_cell_follicular_helper</text>
<rect x="454.50" y="220.10" width="191.70" height="98.50" fill="#fff" stroke="#222" stroke-width="1.07"/>
<clipPath id="c7_0"><path d="M506.65,242.90 C506.93,243.12 507.25,243.82 508.35,244.20 C509.45,244.58 511.10,244.87 513.25,245.20 C515.40,245.53 518.70,245.82 521.25,246.20 C523.80,246.58 526.95,247.08 528.55,247.50 C530.15,247.92 530.97,248.25 530.85,248.70 C530.73,249.15 529.35,249.73 527.85,250.20 C526.35,250.67 524.05,251.07 521.85,251.50 C519.65,251.93 516.73,252.35 514.65,252.80 C512.57,253.25 510.68,253.55 509.35,254.20 C508.02,254.85 507.10,256.28 506.65,256.70 L506.65,256.70 C506.20,256.28 505.28,254.85 503.95,254.20 C502.62,253.55 500.73,253.25 498.65,252.80 C496.57,252.35 493.65,251.93 491.45,251.50 C489.25,251.07 486.95,250.67 485.45,250.20 C483.95,249.73 482.57,249.15 482.45,248.70 C482.33,248.25 483.15,247.92 484.75,247.50 C486.35,247.08 489.50,246.58 492.05,246.20 C494.60,245.82 497.90,245.53 500.05,245.20 C502.20,244.87 503.85,244.58 504.95,244.20 C506.05,243.82 506.37,243.12 506.65,242.90Z"/></clipPath>
<rect x="456.65" y="247.60" width="100" height="3.40" fill="#00B81B" fill-opacity="0.55" clip-path="url(#c7_0)"/>
<path d="M506.65,242.90 C506.93,243.12 507.25,243.82 508.35,244.20 C509.45,244.58 511.10,244.87 513.25,245.20 C515.40,245.53 518.70,245.82 521.25,246.20 C523.80,246.58 526.95,247.08 528.55,247.50 C530.15,247.92 530.97,248.25 530.85,248.70 C530.73,249.15 529.35,249.73 527.85,250.20 C526.35,250.67 524.05,251.07 521.85,251.50 C519.65,251.93 516.73,252.35 514.65,252.80 C512.57,253.25 510.68,253.55 509.35,254.20 C508.02,254.85 507.10,256.28 506.65,256.70 L506.65,256.70 C506.20,256.28 505.28,254.85 503.95,254.20 C502.62,253.55 500.73,253.25 498.65,252.80 C496.57,252.35 493.65,251.93 491.45,251.50 C489.25,251.07 486.95,250.67 485.45,250.20 C483.95,249.73 482.57,249.15 482.45,248.70 C482.33,248.25 483.15,247.92 484.75,247.50 C486.35,247.08 489.50,246.58 492.05,246.20 C494.60,245.82 497.90,245.53 500.05,245.20 C502.20,244.87 503.85,244.58 504.95,244.20 C506.05,243.82 506.37,243.12 506.65,242.90Z" fill="none" stroke="#00B81B" stroke-width="1.45" stroke-linejoin="round"/>
<line x1="483.41" y1="248.20" x2="529.89" y2="248.20" stroke="#00B81B" stroke-width="1.45"/>
<line x1="483.85" y1="249.40" x2="529.45" y2="249.40" stroke="#00B81B" stroke-width="1.45"/>
<line x1="486.83" y1="250.50" x2="526.47" y2="250.50" stroke="#00B81B" stroke-width="1.45"/>
<clipPath id="c7_1"><path d="M594.20,247.30 C594.70,247.47 594.70,247.98 597.20,248.30 C599.70,248.62 603.87,248.88 609.20,249.20 C614.53,249.52 624.30,249.88 629.20,250.20 C634.10,250.52 638.60,250.80 638.60,251.10 C638.60,251.40 633.27,251.75 629.20,252.00 C625.13,252.25 617.78,252.42 614.20,252.60 C610.62,252.78 608.80,252.90 607.70,253.10 C606.60,253.30 607.63,253.57 607.60,253.80 C607.57,254.03 607.90,254.28 607.50,254.50 C607.10,254.72 606.42,254.90 605.20,255.10 C603.98,255.30 601.78,255.50 600.20,255.70 C598.62,255.90 596.62,256.05 595.70,256.30 C594.78,256.55 594.87,256.78 594.70,257.20 C594.53,257.62 594.45,258.40 594.70,258.80 C594.95,259.20 595.37,259.32 596.20,259.60 C597.03,259.88 598.88,260.18 599.70,260.50 C600.52,260.82 601.18,261.18 601.10,261.50 C601.02,261.82 600.02,262.15 599.20,262.40 C598.38,262.65 597.03,262.80 596.20,263.00 C595.37,263.20 594.53,263.50 594.20,263.60 L594.20,263.60 C593.87,263.50 593.03,263.20 592.20,263.00 C591.37,262.80 590.02,262.65 589.20,262.40 C588.38,262.15 587.38,261.82 587.30,261.50 C587.22,261.18 587.88,260.82 588.70,260.50 C589.52,260.18 591.37,259.88 592.20,259.60 C593.03,259.32 593.45,259.20 593.70,258.80 C593.95,258.40 593.87,257.62 593.70,257.20 C593.53,256.78 593.62,256.55 592.70,256.30 C591.78,256.05 589.78,255.90 588.20,255.70 C586.62,255.50 584.42,255.30 583.20,255.10 C581.98,254.90 581.30,254.72 580.90,254.50 C580.50,254.28 580.83,254.03 580.80,253.80 C580.77,253.57 581.80,253.30 580.70,253.10 C579.60,252.90 577.78,252.78 574.20,252.60 C570.62,252.42 563.27,252.25 559.20,252.00 C555.13,251.75 549.80,251.40 549.80,251.10 C549.80,250.80 554.30,250.52 559.20,250.20 C564.10,249.88 573.87,249.52 579.20,249.20 C584.53,248.88 588.70,248.62 591.20,248.30 C593.70,247.98 593.70,247.47 594.20,247.30Z"/></clipPath>
<rect x="544.20" y="249.80" width="100" height="5.20" fill="#00B81B" fill-opacity="0.55" clip-path="url(#c7_1)"/>
<path d="M594.20,247.30 C594.70,247.47 594.70,247.98 597.20,248.30 C599.70,248.62 603.87,248.88 609.20,249.20 C614.53,249.52 624.30,249.88 629.20,250.20 C634.10,250.52 638.60,250.80 638.60,251.10 C638.60,251.40 633.27,251.75 629.20,252.00 C625.13,252.25 617.78,252.42 614.20,252.60 C610.62,252.78 608.80,252.90 607.70,253.10 C606.60,253.30 607.63,253.57 607.60,253.80 C607.57,254.03 607.90,254.28 607.50,254.50 C607.10,254.72 606.42,254.90 605.20,255.10 C603.98,255.30 601.78,255.50 600.20,255.70 C598.62,255.90 596.62,256.05 595.70,256.30 C594.78,256.55 594.87,256.78 594.70,257.20 C594.53,257.62 594.45,258.40 594.70,258.80 C594.95,259.20 595.37,259.32 596.20,259.60 C597.03,259.88 598.88,260.18 599.70,260.50 C600.52,260.82 601.18,261.18 601.10,261.50 C601.02,261.82 600.02,262.15 599.20,262.40 C598.38,262.65 597.03,262.80 596.20,263.00 C595.37,263.20 594.53,263.50 594.20,263.60 L594.20,263.60 C593.87,263.50 593.03,263.20 592.20,263.00 C591.37,262.80 590.02,262.65 589.20,262.40 C588.38,262.15 587.38,261.82 587.30,261.50 C587.22,261.18 587.88,260.82 588.70,260.50 C589.52,260.18 591.37,259.88 592.20,259.60 C593.03,259.32 593.45,259.20 593.70,258.80 C593.95,258.40 593.87,257.62 593.70,257.20 C593.53,256.78 593.62,256.55 592.70,256.30 C591.78,256.05 589.78,255.90 588.20,255.70 C586.62,255.50 584.42,255.30 583.20,255.10 C581.98,254.90 581.30,254.72 580.90,254.50 C580.50,254.28 580.83,254.03 580.80,253.80 C580.77,253.57 581.80,253.30 580.70,253.10 C579.60,252.90 577.78,252.78 574.20,252.60 C570.62,252.42 563.27,252.25 559.20,252.00 C555.13,251.75 549.80,251.40 549.80,251.10 C549.80,250.80 554.30,250.52 559.20,250.20 C564.10,249.88 573.87,249.52 579.20,249.20 C584.53,248.88 588.70,248.62 591.20,248.30 C593.70,247.98 593.70,247.47 594.20,247.30Z" fill="none" stroke="#00B81B" stroke-width="1.45" stroke-linejoin="round"/>
<line x1="555.02" y1="250.60" x2="633.38" y2="250.60" stroke="#00B81B" stroke-width="1.45"/>
<line x1="555.02" y1="251.60" x2="633.38" y2="251.60" stroke="#00B81B" stroke-width="1.45"/>
<line x1="580.77" y1="253.60" x2="607.63" y2="253.60" stroke="#00B81B" stroke-width="1.45"/>
<path d="M506.65,240.80 L506.65,240.00 L594.20,240.00 L594.20,240.80" fill="none" stroke="#1a1a1a" stroke-width="1.0"/>
<text x="550.23" y="242.00" font-size="12.75" text-anchor="middle" fill="#000">*</text>
<rect x="655.00" y="194.10" width="191.70" height="25.00" fill="#F2F2F2" stroke="#000" stroke-width="1.07"/>
<text transform="translate(750.85,211.40) scale(1,1.04)" x="0" y="0" font-size="12.75" text-anchor="middle" fill="#1A1A1A">T_cell_regulatory_.Tregs.</text>
<rect x="655.00" y="220.10" width="191.70" height="98.50" fill="#fff" stroke="#222" stroke-width="1.07"/>
<clipPath id="c8_0"><path d="M707.20,242.50 C707.63,242.80 708.65,243.77 709.80,244.30 C710.95,244.83 712.43,245.23 714.10,245.70 C715.77,246.17 717.67,246.63 719.80,247.10 C721.93,247.57 724.30,248.03 726.90,248.50 C729.50,248.97 733.22,249.42 735.40,249.90 C737.58,250.38 739.05,250.98 740.00,251.40 C740.95,251.82 741.28,252.00 741.10,252.40 C740.92,252.80 740.45,253.32 738.90,253.80 C737.35,254.28 734.75,254.82 731.80,255.30 C728.85,255.78 724.38,256.23 721.20,256.70 C718.02,257.17 714.83,257.68 712.70,258.10 C710.57,258.52 709.24,258.88 708.40,259.20 C707.56,259.52 707.78,259.00 707.65,260.00 C707.53,261.00 707.31,264.15 707.65,265.20 C707.99,266.25 709.08,265.92 709.70,266.30 C710.33,266.68 711.02,267.03 711.40,267.50 C711.78,267.97 712.07,268.60 712.00,269.10 C711.93,269.60 711.47,270.08 711.00,270.50 C710.53,270.92 709.73,271.25 709.20,271.60 C708.67,271.95 708.13,272.12 707.80,272.60 C707.47,273.08 707.30,274.18 707.20,274.50 L707.20,274.50 C707.10,274.18 706.93,273.08 706.60,272.60 C706.27,272.12 705.73,271.95 705.20,271.60 C704.67,271.25 703.87,270.92 703.40,270.50 C702.93,270.08 702.47,269.60 702.40,269.10 C702.33,268.60 702.62,267.97 703.00,267.50 C703.38,267.03 704.08,266.68 704.70,266.30 C705.33,265.92 706.41,266.25 706.75,265.20 C707.09,264.15 706.88,261.00 706.75,260.00 C706.62,259.00 706.84,259.52 706.00,259.20 C705.16,258.88 703.83,258.52 701.70,258.10 C699.57,257.68 696.38,257.17 693.20,256.70 C690.02,256.23 685.55,255.78 682.60,255.30 C679.65,254.82 677.05,254.28 675.50,253.80 C673.95,253.32 673.48,252.80 673.30,252.40 C673.12,252.00 673.45,251.82 674.40,251.40 C675.35,250.98 676.82,250.38 679.00,249.90 C681.18,249.42 684.90,248.97 687.50,248.50 C690.10,248.03 692.47,247.57 694.60,247.10 C696.73,246.63 698.63,246.17 700.30,245.70 C701.97,245.23 703.45,244.83 704.60,244.30 C705.75,243.77 706.77,242.80 707.20,242.50Z"/></clipPath>
<rect x="657.20" y="250.60" width="100" height="4.20" fill="#00BD5C" fill-opacity="0.45" clip-path="url(#c8_0)"/>
<path d="M707.20,242.50 C707.63,242.80 708.65,243.77 709.80,244.30 C710.95,244.83 712.43,245.23 714.10,245.70 C715.77,246.17 717.67,246.63 719.80,247.10 C721.93,247.57 724.30,248.03 726.90,248.50 C729.50,248.97 733.22,249.42 735.40,249.90 C737.58,250.38 739.05,250.98 740.00,251.40 C740.95,251.82 741.28,252.00 741.10,252.40 C740.92,252.80 740.45,253.32 738.90,253.80 C737.35,254.28 734.75,254.82 731.80,255.30 C728.85,255.78 724.38,256.23 721.20,256.70 C718.02,257.17 714.83,257.68 712.70,258.10 C710.57,258.52 709.24,258.88 708.40,259.20 C707.56,259.52 707.78,259.00 707.65,260.00 C707.53,261.00 707.31,264.15 707.65,265.20 C707.99,266.25 709.08,265.92 709.70,266.30 C710.33,266.68 711.02,267.03 711.40,267.50 C711.78,267.97 712.07,268.60 712.00,269.10 C711.93,269.60 711.47,270.08 711.00,270.50 C710.53,270.92 709.73,271.25 709.20,271.60 C708.67,271.95 708.13,272.12 707.80,272.60 C707.47,273.08 707.30,274.18 707.20,274.50 L707.20,274.50 C707.10,274.18 706.93,273.08 706.60,272.60 C706.27,272.12 705.73,271.95 705.20,271.60 C704.67,271.25 703.87,270.92 703.40,270.50 C702.93,270.08 702.47,269.60 702.40,269.10 C702.33,268.60 702.62,267.97 703.00,267.50 C703.38,267.03 704.08,266.68 704.70,266.30 C705.33,265.92 706.41,266.25 706.75,265.20 C707.09,264.15 706.88,261.00 706.75,260.00 C706.62,259.00 706.84,259.52 706.00,259.20 C705.16,258.88 703.83,258.52 701.70,258.10 C699.57,257.68 696.38,257.17 693.20,256.70 C690.02,256.23 685.55,255.78 682.60,255.30 C679.65,254.82 677.05,254.28 675.50,253.80 C673.95,253.32 673.48,252.80 673.30,252.40 C673.12,252.00 673.45,251.82 674.40,251.40 C675.35,250.98 676.82,250.38 679.00,249.90 C681.18,249.42 684.90,248.97 687.50,248.50 C690.10,248.03 692.47,247.57 694.60,247.10 C696.73,246.63 698.63,246.17 700.30,245.70 C701.97,245.23 703.45,244.83 704.60,244.30 C705.75,243.77 706.77,242.80 707.20,242.50Z" fill="none" stroke="#00BD5C" stroke-width="1.45" stroke-linejoin="round"/>
<line x1="676.55" y1="250.70" x2="737.85" y2="250.70" stroke="#00BD5C" stroke-width="1.45"/>
<line x1="673.93" y1="252.80" x2="740.47" y2="252.80" stroke="#00BD5C" stroke-width="1.45"/>
<line x1="679.29" y1="254.60" x2="735.11" y2="254.60" stroke="#00BD5C" stroke-width="1.45"/>
<path d="M794.75,245.00 C795.05,245.23 795.18,245.87 796.55,246.40 C797.92,246.93 800.22,247.52 802.95,248.20 C805.68,248.88 808.25,249.82 812.95,250.50 C817.65,251.18 826.80,251.80 831.15,252.30 C835.50,252.80 839.37,253.08 839.05,253.50 C838.73,253.92 834.37,254.32 829.25,254.80 C824.13,255.28 813.65,255.92 808.35,256.40 C803.05,256.88 799.48,257.25 797.45,257.70 C795.42,258.15 795.85,258.57 796.15,259.10 C796.45,259.63 798.47,260.30 799.25,260.90 C800.03,261.50 801.15,262.02 800.85,262.70 C800.55,263.38 797.72,264.38 797.45,265.00 C797.18,265.62 797.77,265.72 799.25,266.40 C800.73,267.08 806.18,268.35 806.35,269.10 C806.52,269.85 802.18,270.22 800.25,270.90 C798.32,271.58 795.67,272.82 794.75,273.20 L794.75,273.20 C793.83,272.82 791.18,271.58 789.25,270.90 C787.32,270.22 782.98,269.85 783.15,269.10 C783.32,268.35 788.77,267.08 790.25,266.40 C791.73,265.72 792.32,265.62 792.05,265.00 C791.78,264.38 788.95,263.38 788.65,262.70 C788.35,262.02 789.47,261.50 790.25,260.90 C791.03,260.30 793.05,259.63 793.35,259.10 C793.65,258.57 794.08,258.15 792.05,257.70 C790.02,257.25 786.45,256.88 781.15,256.40 C775.85,255.92 765.37,255.28 760.25,254.80 C755.13,254.32 750.77,253.92 750.45,253.50 C750.13,253.08 754.00,252.80 758.35,252.30 C762.70,251.80 771.85,251.18 776.55,250.50 C781.25,249.82 783.82,248.88 786.55,248.20 C789.28,247.52 791.58,246.93 792.95,246.40 C794.32,245.87 794.45,245.23 794.75,245.00Z" fill="none" stroke="#00BD5C" stroke-width="1.45" stroke-linejoin="round"/>
<line x1="758.35" y1="252.30" x2="831.15" y2="252.30" stroke="#00BD5C" stroke-width="1.45"/>
<line x1="751.20" y1="253.60" x2="838.30" y2="253.60" stroke="#00BD5C" stroke-width="1.45"/>
<line x1="774.62" y1="255.90" x2="814.88" y2="255.90" stroke="#00BD5C" stroke-width="1.45"/>
<rect x="855.50" y="194.10" width="191.70" height="25.00" fill="#F2F2F2" stroke="#000" stroke-width="1.07"/>
<text transform="translate(951.35,211.40) scale(1,1.04)" x="0" y="0" font-size="12.75" text-anchor="middle" fill="#1A1A1A">T_cell_gamma_delta</text>
<rect x="855.50" y="220.10" width="191.70" height="98.50" fill="#fff" stroke="#222" stroke-width="1.07"/>
<path d="M907.75,235.30 C907.83,235.90 907.65,237.92 908.25,238.90 C908.85,239.88 909.97,240.37 911.35,241.20 C912.73,242.03 914.90,243.18 916.55,243.90 C918.20,244.62 919.63,244.97 921.25,245.50 C922.87,246.03 924.68,246.38 926.25,247.10 C927.82,247.82 929.77,249.02 930.65,249.80 C931.53,250.58 931.73,251.22 931.55,251.80 C931.37,252.38 930.48,252.87 929.55,253.30 C928.62,253.73 927.77,253.77 925.95,254.40 C924.13,255.03 920.47,256.20 918.65,257.10 C916.83,258.00 915.73,259.02 915.05,259.80 C914.37,260.58 914.10,261.03 914.55,261.80 C915.00,262.57 916.47,263.52 917.75,264.40 C919.03,265.28 921.27,266.27 922.25,267.10 C923.23,267.93 923.80,268.65 923.65,269.40 C923.50,270.15 922.48,270.77 921.35,271.60 C920.22,272.43 918.37,273.48 916.85,274.40 C915.33,275.32 913.62,276.20 912.25,277.10 C910.88,278.00 909.40,278.82 908.65,279.80 C907.90,280.78 907.90,282.47 907.75,283.00 L907.75,283.00 C907.60,282.47 907.60,280.78 906.85,279.80 C906.10,278.82 904.62,278.00 903.25,277.10 C901.88,276.20 900.17,275.32 898.65,274.40 C897.13,273.48 895.28,272.43 894.15,271.60 C893.02,270.77 892.00,270.15 891.85,269.40 C891.70,268.65 892.27,267.93 893.25,267.10 C894.23,266.27 896.47,265.28 897.75,264.40 C899.03,263.52 900.50,262.57 900.95,261.80 C901.40,261.03 901.13,260.58 900.45,259.80 C899.77,259.02 898.67,258.00 896.85,257.10 C895.03,256.20 891.37,255.03 889.55,254.40 C887.73,253.77 886.88,253.73 885.95,253.30 C885.02,252.87 884.13,252.38 883.95,251.80 C883.77,251.22 883.97,250.58 884.85,249.80 C885.73,249.02 887.68,247.82 889.25,247.10 C890.82,246.38 892.63,246.03 894.25,245.50 C895.87,244.97 897.30,244.62 898.95,243.90 C900.60,243.18 902.77,242.03 904.15,241.20 C905.53,240.37 906.65,239.88 907.25,238.90 C907.85,237.92 907.67,235.90 907.75,235.30Z" fill="none" stroke="#00C085" stroke-width="1.45" stroke-linejoin="round"/>
<line x1="884.45" y1="250.70" x2="931.05" y2="250.70" stroke="#00C085" stroke-width="1.45"/>
<line x1="894.42" y1="256.20" x2="921.08" y2="256.20" stroke="#00C085" stroke-width="1.45"/>
<line x1="893.13" y1="267.30" x2="922.37" y2="267.30" stroke="#00C085" stroke-width="1.45"/>
<path d="M995.30,241.40 C995.45,242.00 995.60,243.95 996.20,245.00 C996.80,246.05 997.62,246.63 998.90,247.70 C1000.18,248.77 1002.75,250.18 1003.90,251.40 C1005.05,252.62 1006.02,253.87 1005.80,255.00 C1005.58,256.13 1003.60,257.22 1002.60,258.20 C1001.60,259.18 999.95,260.22 999.80,260.90 C999.65,261.58 999.42,261.77 1001.70,262.30 C1003.98,262.83 1008.82,263.42 1013.50,264.10 C1018.18,264.78 1025.45,265.57 1029.80,266.40 C1034.15,267.23 1039.28,268.27 1039.60,269.10 C1039.92,269.93 1035.30,270.65 1031.70,271.40 C1028.10,272.15 1022.25,272.85 1018.00,273.60 C1013.75,274.35 1009.38,275.22 1006.20,275.90 C1003.02,276.58 1000.72,277.10 998.90,277.70 C997.08,278.30 995.90,279.20 995.30,279.50 L995.30,279.50 C994.70,279.20 993.52,278.30 991.70,277.70 C989.88,277.10 987.58,276.58 984.40,275.90 C981.22,275.22 976.85,274.35 972.60,273.60 C968.35,272.85 962.50,272.15 958.90,271.40 C955.30,270.65 950.68,269.93 951.00,269.10 C951.32,268.27 956.45,267.23 960.80,266.40 C965.15,265.57 972.42,264.78 977.10,264.10 C981.78,263.42 986.62,262.83 988.90,262.30 C991.18,261.77 990.95,261.58 990.80,260.90 C990.65,260.22 989.00,259.18 988.00,258.20 C987.00,257.22 985.02,256.13 984.80,255.00 C984.58,253.87 985.55,252.62 986.70,251.40 C987.85,250.18 990.42,248.77 991.70,247.70 C992.98,246.63 993.80,246.05 994.40,245.00 C995.00,243.95 995.15,242.00 995.30,241.40Z" fill="none" stroke="#00C085" stroke-width="1.45" stroke-linejoin="round"/>
<line x1="981.69" y1="263.40" x2="1008.91" y2="263.40" stroke="#00C085" stroke-width="1.45"/>
<line x1="956.08" y1="267.70" x2="1034.52" y2="267.70" stroke="#00C085" stroke-width="1.45"/>
<line x1="955.81" y1="270.50" x2="1034.79" y2="270.50" stroke="#00C085" stroke-width="1.45"/>
<path d="M907.75,241.30 L907.75,240.50 L995.30,240.50 L995.30,241.30" fill="none" stroke="#1a1a1a" stroke-width="1.0"/>
<text x="951.32" y="242.50" font-size="12.75" text-anchor="middle" fill="#000">*</text>
<rect x="53.50" y="327.70" width="191.70" height="25.00" fill="#F2F2F2" stroke="#000" stroke-width="1.07"/>
<text transform="translate(149.35,345.00) scale(1,1.04)" x="0" y="0" font-size="12.75" text-anchor="middle" fill="#1A1A1A">NK_cell_resting</text>
<rect x="53.50" y="353.70" width="191.70" height="98.50" fill="#fff" stroke="#222" stroke-width="1.07"/>
<path d="M105.55,377.10 C105.70,377.58 105.92,379.07 106.45,380.00 C106.98,380.93 108.13,381.57 108.75,382.70 C109.37,383.83 110.23,385.43 110.15,386.80 C110.07,388.17 108.90,389.68 108.25,390.90 C107.60,392.12 106.25,393.27 106.25,394.10 C106.25,394.93 106.85,395.37 108.25,395.90 C109.65,396.43 111.32,396.77 114.65,397.30 C117.98,397.83 124.02,398.50 128.25,399.10 C132.48,399.70 137.43,400.33 140.05,400.90 C142.67,401.47 144.40,401.97 143.95,402.50 C143.50,403.03 140.27,403.53 137.35,404.10 C134.43,404.67 129.93,405.30 126.45,405.90 C122.97,406.50 119.33,407.10 116.45,407.70 C113.57,408.30 110.97,408.88 109.15,409.50 C107.33,410.12 106.15,411.08 105.55,411.40 L105.55,411.40 C104.95,411.08 103.77,410.12 101.95,409.50 C100.13,408.88 97.53,408.30 94.65,407.70 C91.77,407.10 88.13,406.50 84.65,405.90 C81.17,405.30 76.67,404.67 73.75,404.10 C70.83,403.53 67.60,403.03 67.15,402.50 C66.70,401.97 68.43,401.47 71.05,400.90 C73.67,400.33 78.62,399.70 82.85,399.10 C87.08,398.50 93.12,397.83 96.45,397.30 C99.78,396.77 101.45,396.43 102.85,395.90 C104.25,395.37 104.85,394.93 104.85,394.10 C104.85,393.27 103.50,392.12 102.85,390.90 C102.20,389.68 101.03,388.17 100.95,386.80 C100.87,385.43 101.73,383.83 102.35,382.70 C102.97,381.57 104.12,380.93 104.65,380.00 C105.18,379.07 105.40,377.58 105.55,377.10Z" fill="none" stroke="#00C1A7" stroke-width="1.45" stroke-linejoin="round"/>
<line x1="78.26" y1="399.80" x2="132.84" y2="399.80" stroke="#00C1A7" stroke-width="1.45"/>
<line x1="68.86" y1="401.80" x2="142.24" y2="401.80" stroke="#00C1A7" stroke-width="1.45"/>
<line x1="71.27" y1="403.50" x2="139.83" y2="403.50" stroke="#00C1A7" stroke-width="1.45"/>
<path d="M193.10,380.20 C193.33,380.47 193.58,381.15 194.50,381.80 C195.42,382.45 197.37,383.32 198.60,384.10 C199.83,384.88 201.90,385.67 201.90,386.50 C201.90,387.33 199.83,388.28 198.60,389.10 C197.37,389.92 194.50,390.67 194.50,391.40 C194.50,392.13 197.42,392.75 198.60,393.50 C199.78,394.25 201.30,395.20 201.60,395.90 C201.90,396.60 199.55,397.17 200.40,397.70 C201.25,398.23 203.37,398.63 206.70,399.10 C210.03,399.57 215.32,399.93 220.40,400.50 C225.48,401.07 236.45,401.90 237.20,402.50 C237.95,403.10 229.22,403.60 224.90,404.10 C220.58,404.60 215.38,405.05 211.30,405.50 C207.22,405.95 203.43,406.28 200.40,406.80 C197.37,407.32 194.32,408.30 193.10,408.60 L193.10,408.60 C191.88,408.30 188.83,407.32 185.80,406.80 C182.77,406.28 178.98,405.95 174.90,405.50 C170.82,405.05 165.62,404.60 161.30,404.10 C156.98,403.60 148.25,403.10 149.00,402.50 C149.75,401.90 160.72,401.07 165.80,400.50 C170.88,399.93 176.17,399.57 179.50,399.10 C182.83,398.63 184.95,398.23 185.80,397.70 C186.65,397.17 184.30,396.60 184.60,395.90 C184.90,395.20 186.42,394.25 187.60,393.50 C188.78,392.75 191.70,392.13 191.70,391.40 C191.70,390.67 188.83,389.92 187.60,389.10 C186.37,388.28 184.30,387.33 184.30,386.50 C184.30,385.67 186.37,384.88 187.60,384.10 C188.83,383.32 190.78,382.45 191.70,381.80 C192.62,381.15 192.87,380.47 193.10,380.20Z" fill="none" stroke="#00C1A7" stroke-width="1.45" stroke-linejoin="round"/>
<line x1="185.20" y1="396.80" x2="201.00" y2="396.80" stroke="#00C1A7" stroke-width="1.45"/>
<line x1="154.88" y1="401.80" x2="231.32" y2="401.80" stroke="#00C1A7" stroke-width="1.45"/>
<line x1="156.69" y1="403.50" x2="229.51" y2="403.50" stroke="#00C1A7" stroke-width="1.45"/>
<line x1="49.2" y1="362.70" x2="53.50" y2="362.70" stroke="#222" stroke-width="1.07"/>
<text x="46.4" y="367.00" font-size="10.67" text-anchor="end" fill="#000">1e+02</text>
<line x1="49.2" y1="385.50" x2="53.50" y2="385.50" stroke="#222" stroke-width="1.07"/>
<text x="46.4" y="389.80" font-size="10.67" text-anchor="end" fill="#000">1e-02</text>
<line x1="49.2" y1="408.30" x2="53.50" y2="408.30" stroke="#222" stroke-width="1.07"/>
<text x="46.4" y="412.60" font-size="10.67" text-anchor="end" fill="#000">1e-06</text>
<line x1="49.2" y1="431.10" x2="53.50" y2="431.10" stroke="#222" stroke-width="1.07"/>
<text x="46.4" y="435.40" font-size="10.67" text-anchor="end" fill="#000">1e-10</text>
<rect x="254.00" y="327.70" width="191.70" height="25.00" fill="#F2F2F2" stroke="#000" stroke-width="1.07"/>
<text transform="translate(349.85,345.00) scale(1,1.04)" x="0" y="0" font-size="12.75" text-anchor="middle" fill="#1A1A1A">NK_cell_activated</text>
<rect x="254.00" y="353.70" width="191.70" height="98.50" fill="#fff" stroke="#222" stroke-width="1.07"/>
<path d="M306.10,376.80 C306.33,377.03 306.28,377.75 307.50,378.20 C308.72,378.65 310.15,379.05 313.40,379.50 C316.65,379.95 322.15,380.43 327.00,380.90 C331.85,381.37 338.60,381.85 342.50,382.30 C346.40,382.75 350.40,383.10 350.40,383.60 C350.40,384.10 345.80,384.77 342.50,385.30 C339.20,385.83 334.70,386.25 330.60,386.80 C326.50,387.35 321.07,387.98 317.90,388.60 C314.73,389.22 312.58,389.97 311.60,390.50 C310.62,391.03 312.23,391.30 312.00,391.80 C311.77,392.30 310.88,392.88 310.20,393.50 C309.52,394.12 308.50,394.87 307.90,395.50 C307.30,396.13 306.60,396.70 306.60,397.30 C306.60,397.90 306.77,398.50 307.90,399.10 C309.03,399.70 311.88,400.33 313.40,400.90 C314.92,401.47 317.00,401.97 317.00,402.50 C317.00,403.03 314.92,403.53 313.40,404.10 C311.88,404.67 309.12,405.37 307.90,405.90 C306.68,406.43 306.40,407.07 306.10,407.30 L306.10,407.30 C305.80,407.07 305.52,406.43 304.30,405.90 C303.08,405.37 300.32,404.67 298.80,404.10 C297.28,403.53 295.20,403.03 295.20,402.50 C295.20,401.97 297.28,401.47 298.80,400.90 C300.32,400.33 303.17,399.70 304.30,399.10 C305.43,398.50 305.60,397.90 305.60,397.30 C305.60,396.70 304.90,396.13 304.30,395.50 C303.70,394.87 302.68,394.12 302.00,393.50 C301.32,392.88 300.43,392.30 300.20,391.80 C299.97,391.30 301.58,391.03 300.60,390.50 C299.62,389.97 297.47,389.22 294.30,388.60 C291.13,387.98 285.70,387.35 281.60,386.80 C277.50,386.25 273.00,385.83 269.70,385.30 C266.40,384.77 261.80,384.10 261.80,383.60 C261.80,383.10 265.80,382.75 269.70,382.30 C273.60,381.85 280.35,381.37 285.20,380.90 C290.05,380.43 295.55,379.95 298.80,379.50 C302.05,379.05 303.48,378.65 304.70,378.20 C305.92,377.75 305.87,377.03 306.10,376.80Z" fill="none" stroke="#00BFC4" stroke-width="1.45" stroke-linejoin="round"/>
<line x1="273.02" y1="382.00" x2="339.18" y2="382.00" stroke="#00BFC4" stroke-width="1.45"/>
<line x1="261.80" y1="383.60" x2="350.40" y2="383.60" stroke="#00BFC4" stroke-width="1.45"/>
<line x1="274.46" y1="385.90" x2="337.74" y2="385.90" stroke="#00BFC4" stroke-width="1.45"/>
<path d="M393.65,376.40 C393.80,376.77 393.63,377.92 394.55,378.60 C395.47,379.28 396.88,379.82 399.15,380.50 C401.42,381.18 405.28,381.95 408.15,382.70 C411.02,383.45 414.27,384.20 416.35,385.00 C418.43,385.80 420.65,386.75 420.65,387.50 C420.65,388.25 418.27,388.78 416.35,389.50 C414.43,390.22 411.42,391.03 409.15,391.80 C406.88,392.57 404.50,393.33 402.75,394.10 C401.00,394.87 399.57,395.65 398.65,396.40 C397.73,397.15 397.02,397.85 397.25,398.60 C397.48,399.35 399.32,400.25 400.05,400.90 C400.78,401.55 401.88,401.82 401.65,402.50 C401.42,403.18 399.75,404.20 398.65,405.00 C397.55,405.80 395.88,406.55 395.05,407.30 C394.22,408.05 393.88,409.13 393.65,409.50 L393.65,409.50 C393.42,409.13 393.08,408.05 392.25,407.30 C391.42,406.55 389.75,405.80 388.65,405.00 C387.55,404.20 385.88,403.18 385.65,402.50 C385.42,401.82 386.52,401.55 387.25,400.90 C387.98,400.25 389.82,399.35 390.05,398.60 C390.28,397.85 389.57,397.15 388.65,396.40 C387.73,395.65 386.30,394.87 384.55,394.10 C382.80,393.33 380.42,392.57 378.15,391.80 C375.88,391.03 372.87,390.22 370.95,389.50 C369.03,388.78 366.65,388.25 366.65,387.50 C366.65,386.75 368.87,385.80 370.95,385.00 C373.03,384.20 376.28,383.45 379.15,382.70 C382.02,381.95 385.88,381.18 388.15,380.50 C390.42,379.82 391.83,379.28 392.75,378.60 C393.67,377.92 393.50,376.77 393.65,376.40Z" fill="none" stroke="#00BFC4" stroke-width="1.45" stroke-linejoin="round"/>
<line x1="367.85" y1="386.80" x2="419.45" y2="386.80" stroke="#00BFC4" stroke-width="1.45"/>
<line x1="370.95" y1="389.50" x2="416.35" y2="389.50" stroke="#00BFC4" stroke-width="1.45"/>
<line x1="383.72" y1="393.80" x2="403.58" y2="393.80" stroke="#00BFC4" stroke-width="1.45"/>
<rect x="454.50" y="327.70" width="191.70" height="25.00" fill="#F2F2F2" stroke="#000" stroke-width="1.07"/>
<text transform="translate(550.35,345.00) scale(1,1.04)" x="0" y="0" font-size="12.75" text-anchor="middle" fill="#1A1A1A">Monocyte</text>
<rect x="454.50" y="353.70" width="191.70" height="98.50" fill="#fff" stroke="#222" stroke-width="1.07"/>
<path d="M506.65,372.10 C506.80,372.58 506.63,374.07 507.55,375.00 C508.47,375.93 509.72,376.78 512.15,377.70 C514.58,378.62 519.13,379.58 522.15,380.50 C525.17,381.42 528.22,382.37 530.25,383.20 C532.28,384.03 533.40,384.78 534.35,385.50 C535.30,386.22 536.48,386.75 535.95,387.50 C535.42,388.25 533.30,389.20 531.15,390.00 C529.00,390.80 525.23,391.47 523.05,392.30 C520.87,393.13 518.97,394.32 518.05,395.00 C517.13,395.68 517.03,395.80 517.55,396.40 C518.07,397.00 519.93,397.85 521.15,398.60 C522.37,399.35 523.82,400.25 524.85,400.90 C525.88,401.55 527.50,401.90 527.35,402.50 C527.20,403.10 525.73,403.70 523.95,404.50 C522.17,405.30 518.93,406.38 516.65,407.30 C514.37,408.22 511.92,408.80 510.25,410.00 C508.58,411.20 507.25,413.75 506.65,414.50 L506.65,414.50 C506.05,413.75 504.72,411.20 503.05,410.00 C501.38,408.80 498.93,408.22 496.65,407.30 C494.37,406.38 491.13,405.30 489.35,404.50 C487.57,403.70 486.10,403.10 485.95,402.50 C485.80,401.90 487.42,401.55 488.45,400.90 C489.48,400.25 490.93,399.35 492.15,398.60 C493.37,397.85 495.23,397.00 495.75,396.40 C496.27,395.80 496.17,395.68 495.25,395.00 C494.33,394.32 492.43,393.13 490.25,392.30 C488.07,391.47 484.30,390.80 482.15,390.00 C480.00,389.20 477.88,388.25 477.35,387.50 C476.82,386.75 478.00,386.22 478.95,385.50 C479.90,384.78 481.02,384.03 483.05,383.20 C485.08,382.37 488.13,381.42 491.15,380.50 C494.17,379.58 498.72,378.62 501.15,377.70 C503.58,376.78 504.83,375.93 505.75,375.00 C506.67,374.07 506.50,372.58 506.65,372.10Z" fill="none" stroke="#00BADE" stroke-width="1.45" stroke-linejoin="round"/>
<line x1="477.75" y1="387.00" x2="535.55" y2="387.00" stroke="#00BADE" stroke-width="1.45"/>
<line x1="488.49" y1="391.80" x2="524.81" y2="391.80" stroke="#00BADE" stroke-width="1.45"/>
<line x1="487.67" y1="401.40" x2="525.63" y2="401.40" stroke="#00BADE" stroke-width="1.45"/>
<path d="M594.20,375.50 C594.43,375.80 594.38,376.70 595.60,377.30 C596.82,377.90 598.70,378.42 601.50,379.10 C604.30,379.78 608.62,380.65 612.40,381.40 C616.18,382.15 620.57,382.85 624.20,383.60 C627.83,384.35 631.82,385.17 634.20,385.90 C636.58,386.63 639.10,387.32 638.50,388.00 C637.90,388.68 633.73,389.28 630.60,390.00 C627.47,390.72 623.18,391.55 619.70,392.30 C616.22,393.05 612.73,393.75 609.70,394.50 C606.67,395.25 603.25,396.12 601.50,396.80 C599.75,397.48 598.75,397.92 599.20,398.60 C599.65,399.28 602.72,400.25 604.20,400.90 C605.68,401.55 607.95,401.90 608.10,402.50 C608.25,403.10 606.67,403.78 605.10,404.50 C603.53,405.22 600.52,406.03 598.70,406.80 C596.88,407.57 594.95,408.72 594.20,409.10 L594.20,409.10 C593.45,408.72 591.52,407.57 589.70,406.80 C587.88,406.03 584.87,405.22 583.30,404.50 C581.73,403.78 580.15,403.10 580.30,402.50 C580.45,401.90 582.72,401.55 584.20,400.90 C585.68,400.25 588.75,399.28 589.20,398.60 C589.65,397.92 588.65,397.48 586.90,396.80 C585.15,396.12 581.73,395.25 578.70,394.50 C575.67,393.75 572.18,393.05 568.70,392.30 C565.22,391.55 560.93,390.72 557.80,390.00 C554.67,389.28 550.50,388.68 549.90,388.00 C549.30,387.32 551.82,386.63 554.20,385.90 C556.58,385.17 560.57,384.35 564.20,383.60 C567.83,382.85 572.22,382.15 576.00,381.40 C579.78,380.65 584.10,379.78 586.90,379.10 C589.70,378.42 591.58,377.90 592.80,377.30 C594.02,376.70 593.97,375.80 594.20,375.50Z" fill="none" stroke="#00BADE" stroke-width="1.45" stroke-linejoin="round"/>
<line x1="553.18" y1="386.40" x2="635.22" y2="386.40" stroke="#00BADE" stroke-width="1.45"/>
<line x1="555.04" y1="389.30" x2="633.37" y2="389.30" stroke="#00BADE" stroke-width="1.45"/>
<line x1="575.52" y1="393.80" x2="612.88" y2="393.80" stroke="#00BADE" stroke-width="1.45"/>
<rect x="655.00" y="327.70" width="191.70" height="25.00" fill="#F2F2F2" stroke="#000" stroke-width="1.07"/>
<text transform="translate(750.85,345.00) scale(1,1.04)" x="0" y="0" font-size="12.75" text-anchor="middle" fill="#1A1A1A">Macrophage_M0</text>
<rect x="655.00" y="353.70" width="191.70" height="98.50" fill="#fff" stroke="#222" stroke-width="1.07"/>
<path d="M707.20,373.50 C707.50,373.75 707.18,374.52 709.00,375.00 C710.82,375.48 714.15,375.95 718.10,376.40 C722.05,376.85 728.15,377.25 732.70,377.70 C737.25,378.15 742.27,378.57 745.40,379.10 C748.53,379.63 751.80,380.30 751.50,380.90 C751.20,381.50 747.20,382.10 743.60,382.70 C740.00,383.30 734.30,383.88 729.90,384.50 C725.50,385.12 719.92,385.78 717.20,386.40 C714.48,387.02 714.67,387.52 713.60,388.20 C712.53,388.88 711.72,389.75 710.80,390.50 C709.88,391.25 708.62,391.72 708.10,392.70 C707.58,393.68 707.25,395.33 707.70,396.40 C708.15,397.47 709.10,398.08 710.80,399.10 C712.50,400.12 717.58,401.52 717.90,402.50 C718.22,403.48 714.48,404.05 712.70,405.00 C710.92,405.95 708.12,407.67 707.20,408.20 L707.20,408.20 C706.28,407.67 703.48,405.95 701.70,405.00 C699.92,404.05 696.18,403.48 696.50,402.50 C696.82,401.52 701.90,400.12 703.60,399.10 C705.30,398.08 706.25,397.47 706.70,396.40 C707.15,395.33 706.82,393.68 706.30,392.70 C705.78,391.72 704.52,391.25 703.60,390.50 C702.68,389.75 701.87,388.88 700.80,388.20 C699.73,387.52 699.92,387.02 697.20,386.40 C694.48,385.78 688.90,385.12 684.50,384.50 C680.10,383.88 674.40,383.30 670.80,382.70 C667.20,382.10 663.20,381.50 662.90,380.90 C662.60,380.30 665.87,379.63 669.00,379.10 C672.13,378.57 677.15,378.15 681.70,377.70 C686.25,377.25 692.35,376.85 696.30,376.40 C700.25,375.95 703.58,375.48 705.40,375.00 C707.22,374.52 706.90,373.75 707.20,373.50Z" fill="none" stroke="#00B2F3" stroke-width="1.45" stroke-linejoin="round"/>
<line x1="666.63" y1="379.80" x2="747.77" y2="379.80" stroke="#00B2F3" stroke-width="1.45"/>
<line x1="665.09" y1="381.40" x2="749.31" y2="381.40" stroke="#00B2F3" stroke-width="1.45"/>
<line x1="676.89" y1="383.50" x2="737.51" y2="383.50" stroke="#00B2F3" stroke-width="1.45"/>
<path d="M794.75,370.50 C794.98,370.95 794.93,372.37 796.15,373.20 C797.37,374.03 799.70,374.75 802.05,375.50 C804.40,376.25 807.68,376.95 810.25,377.70 C812.82,378.45 815.68,379.20 817.45,380.00 C819.22,380.80 820.85,381.75 820.85,382.50 C820.85,383.25 819.07,383.70 817.45,384.50 C815.83,385.30 813.27,386.38 811.15,387.30 C809.03,388.22 806.65,389.10 804.75,390.00 C802.85,390.90 801.07,391.72 799.75,392.70 C798.43,393.68 796.85,394.83 796.85,395.90 C796.85,396.97 798.87,398.00 799.75,399.10 C800.63,400.20 802.23,401.52 802.15,402.50 C802.07,403.48 800.25,404.13 799.25,405.00 C798.25,405.87 796.90,406.57 796.15,407.70 C795.40,408.83 794.98,411.12 794.75,411.80 L794.75,411.80 C794.52,411.12 794.10,408.83 793.35,407.70 C792.60,406.57 791.25,405.87 790.25,405.00 C789.25,404.13 787.43,403.48 787.35,402.50 C787.27,401.52 788.87,400.20 789.75,399.10 C790.63,398.00 792.65,396.97 792.65,395.90 C792.65,394.83 791.07,393.68 789.75,392.70 C788.43,391.72 786.65,390.90 784.75,390.00 C782.85,389.10 780.47,388.22 778.35,387.30 C776.23,386.38 773.67,385.30 772.05,384.50 C770.43,383.70 768.65,383.25 768.65,382.50 C768.65,381.75 770.28,380.80 772.05,380.00 C773.82,379.20 776.68,378.45 779.25,377.70 C781.82,376.95 785.10,376.25 787.45,375.50 C789.80,374.75 792.13,374.03 793.35,373.20 C794.57,372.37 794.52,370.95 794.75,370.50Z" fill="none" stroke="#00B2F3" stroke-width="1.45" stroke-linejoin="round"/>
<line x1="770.15" y1="381.40" x2="819.35" y2="381.40" stroke="#00B2F3" stroke-width="1.45"/>
<line x1="772.73" y1="384.80" x2="816.77" y2="384.80" stroke="#00B2F3" stroke-width="1.45"/>
<line x1="785.68" y1="390.50" x2="803.82" y2="390.50" stroke="#00B2F3" stroke-width="1.45"/>
<rect x="855.50" y="327.70" width="191.70" height="25.00" fill="#F2F2F2" stroke="#000" stroke-width="1.07"/>
<text transform="translate(951.35,345.00) scale(1,1.04)" x="0" y="0" font-size="12.75" text-anchor="middle" fill="#1A1A1A">Macrophage_M1</text>
<rect x="855.50" y="353.70" width="191.70" height="98.50" fill="#fff" stroke="#222" stroke-width="1.07"/>
<path d="M907.75,376.40 C908.20,376.62 907.42,377.25 910.45,377.70 C913.48,378.15 920.03,378.63 925.95,379.10 C931.87,379.57 941.60,380.12 945.95,380.50 C950.30,380.88 952.05,381.07 952.05,381.40 C952.05,381.73 947.27,382.20 945.95,382.50 C944.63,382.80 944.20,382.90 944.15,383.20 C944.10,383.50 946.42,383.92 945.65,384.30 C944.88,384.68 943.60,385.08 939.55,385.50 C935.50,385.92 926.05,386.40 921.35,386.80 C916.65,387.20 913.62,387.57 911.35,387.90 C909.08,388.23 908.35,388.65 907.75,388.80 L907.75,388.80 C907.15,388.65 906.42,388.23 904.15,387.90 C901.88,387.57 898.85,387.20 894.15,386.80 C889.45,386.40 880.00,385.92 875.95,385.50 C871.90,385.08 870.62,384.68 869.85,384.30 C869.08,383.92 871.40,383.50 871.35,383.20 C871.30,382.90 870.87,382.80 869.55,382.50 C868.23,382.20 863.45,381.73 863.45,381.40 C863.45,381.07 865.20,380.88 869.55,380.50 C873.90,380.12 883.63,379.57 889.55,379.10 C895.47,378.63 902.02,378.15 905.05,377.70 C908.08,377.25 907.30,376.62 907.75,376.40Z" fill="none" stroke="#00A6FF" stroke-width="1.45" stroke-linejoin="round"/>
<line x1="864.81" y1="381.20" x2="950.69" y2="381.20" stroke="#00A6FF" stroke-width="1.45"/>
<line x1="870.58" y1="382.90" x2="944.92" y2="382.90" stroke="#00A6FF" stroke-width="1.45"/>
<line x1="870.87" y1="384.50" x2="944.63" y2="384.50" stroke="#00A6FF" stroke-width="1.45"/>
<path d="M995.30,376.40 C995.60,376.77 995.58,377.92 997.10,378.60 C998.62,379.28 1001.37,379.88 1004.40,380.50 C1007.43,381.12 1012.57,381.78 1015.30,382.30 C1018.03,382.82 1019.43,383.12 1020.80,383.60 C1022.17,384.08 1023.67,384.58 1023.50,385.20 C1023.33,385.82 1021.62,386.65 1019.80,387.30 C1017.98,387.95 1015.32,388.50 1012.60,389.10 C1009.88,389.70 1006.08,390.30 1003.50,390.90 C1000.92,391.50 998.38,392.02 997.10,392.70 C995.82,393.38 995.87,394.23 995.80,395.00 C995.73,395.77 995.57,396.55 996.70,397.30 C997.83,398.05 1000.58,398.63 1002.60,399.50 C1004.62,400.37 1009.10,401.58 1008.80,402.50 C1008.50,403.42 1003.05,404.13 1000.80,405.00 C998.55,405.87 996.22,407.25 995.30,407.70 L995.30,407.70 C994.38,407.25 992.05,405.87 989.80,405.00 C987.55,404.13 982.10,403.42 981.80,402.50 C981.50,401.58 985.98,400.37 988.00,399.50 C990.02,398.63 992.77,398.05 993.90,397.30 C995.03,396.55 994.87,395.77 994.80,395.00 C994.73,394.23 994.78,393.38 993.50,392.70 C992.22,392.02 989.68,391.50 987.10,390.90 C984.52,390.30 980.72,389.70 978.00,389.10 C975.28,388.50 972.62,387.95 970.80,387.30 C968.98,386.65 967.27,385.82 967.10,385.20 C966.93,384.58 968.43,384.08 969.80,383.60 C971.17,383.12 972.57,382.82 975.30,382.30 C978.03,381.78 983.17,381.12 986.20,380.50 C989.23,379.88 991.98,379.28 993.50,378.60 C995.02,377.92 995.00,376.77 995.30,376.40Z" fill="none" stroke="#00A6FF" stroke-width="1.45" stroke-linejoin="round"/>
<line x1="968.28" y1="384.50" x2="1022.32" y2="384.50" stroke="#00A6FF" stroke-width="1.45"/>
<line x1="969.21" y1="386.40" x2="1021.39" y2="386.40" stroke="#00A6FF" stroke-width="1.45"/>
<line x1="974.40" y1="388.20" x2="1016.20" y2="388.20" stroke="#00A6FF" stroke-width="1.45"/>
<path d="M907.75,374.30 L907.75,373.50 L995.30,373.50 L995.30,374.30" fill="none" stroke="#1a1a1a" stroke-width="1.0"/>
<text x="951.92" y="375.50" font-size="12.75" text-anchor="middle" fill="#000">*<tspan dx="1.05">*</tspan></text>
<rect x="53.50" y="461.30" width="191.70" height="25.00" fill="#F2F2F2" stroke="#000" stroke-width="1.07"/>
<text transform="translate(149.35,478.60) scale(1,1.04)" x="0" y="0" font-size="12.75" text-anchor="middle" fill="#1A1A1A">Macrophage_M2</text>
<rect x="53.50" y="487.30" width="191.70" height="98.50" fill="#fff" stroke="#222" stroke-width="1.07"/>
<clipPath id="c15_0"><path d="M105.55,510.40 C106.55,510.50 109.05,510.80 111.55,511.00 C114.05,511.20 117.22,511.42 120.55,511.60 C123.88,511.78 128.05,511.95 131.55,512.10 C135.05,512.25 138.48,512.39 141.55,512.50 C144.62,512.61 150.95,512.67 149.95,512.75 C148.95,512.83 139.28,512.91 135.55,513.00 C131.82,513.09 128.98,513.05 127.55,513.30 C126.12,513.55 127.20,514.15 126.95,514.50 C126.70,514.85 127.12,515.17 126.05,515.40 C124.98,515.63 123.13,515.75 120.55,515.90 C117.97,516.05 113.05,516.18 110.55,516.30 C108.05,516.42 106.38,516.55 105.55,516.60 L105.55,516.60 C104.72,516.55 103.05,516.42 100.55,516.30 C98.05,516.18 93.13,516.05 90.55,515.90 C87.97,515.75 86.12,515.63 85.05,515.40 C83.98,515.17 84.40,514.85 84.15,514.50 C83.90,514.15 84.98,513.55 83.55,513.30 C82.12,513.05 79.28,513.09 75.55,513.00 C71.82,512.91 62.15,512.83 61.15,512.75 C60.15,512.67 66.48,512.61 69.55,512.50 C72.62,512.39 76.05,512.25 79.55,512.10 C83.05,511.95 87.22,511.78 90.55,511.60 C93.88,511.42 97.05,511.20 99.55,511.00 C102.05,510.80 104.55,510.50 105.55,510.40Z"/></clipPath>
<rect x="55.55" y="511.20" width="100" height="4.70" fill="#7C96FF" fill-opacity="0.85" clip-path="url(#c15_0)"/>
<path d="M105.55,510.40 C106.55,510.50 109.05,510.80 111.55,511.00 C114.05,511.20 117.22,511.42 120.55,511.60 C123.88,511.78 128.05,511.95 131.55,512.10 C135.05,512.25 138.48,512.39 141.55,512.50 C144.62,512.61 150.95,512.67 149.95,512.75 C148.95,512.83 139.28,512.91 135.55,513.00 C131.82,513.09 128.98,513.05 127.55,513.30 C126.12,513.55 127.20,514.15 126.95,514.50 C126.70,514.85 127.12,515.17 126.05,515.40 C124.98,515.63 123.13,515.75 120.55,515.90 C117.97,516.05 113.05,516.18 110.55,516.30 C108.05,516.42 106.38,516.55 105.55,516.60 L105.55,516.60 C104.72,516.55 103.05,516.42 100.55,516.30 C98.05,516.18 93.13,516.05 90.55,515.90 C87.97,515.75 86.12,515.63 85.05,515.40 C83.98,515.17 84.40,514.85 84.15,514.50 C83.90,514.15 84.98,513.55 83.55,513.30 C82.12,513.05 79.28,513.09 75.55,513.00 C71.82,512.91 62.15,512.83 61.15,512.75 C60.15,512.67 66.48,512.61 69.55,512.50 C72.62,512.39 76.05,512.25 79.55,512.10 C83.05,511.95 87.22,511.78 90.55,511.60 C93.88,511.42 97.05,511.20 99.55,511.00 C102.05,510.80 104.55,510.50 105.55,510.40Z" fill="none" stroke="#7C96FF" stroke-width="1.45" stroke-linejoin="round"/>
<line x1="64.03" y1="512.80" x2="147.07" y2="512.80" stroke="#7C96FF" stroke-width="1.45"/>
<line x1="83.80" y1="513.80" x2="127.30" y2="513.80" stroke="#7C96FF" stroke-width="1.45"/>
<line x1="84.45" y1="514.80" x2="126.65" y2="514.80" stroke="#7C96FF" stroke-width="1.45"/>
<clipPath id="c15_1"><path d="M193.10,510.00 C193.42,510.15 193.43,510.58 195.00,510.90 C196.57,511.22 199.90,511.53 202.50,511.90 C205.10,512.27 208.97,512.73 210.60,513.10 C212.23,513.47 212.08,513.73 212.30,514.10 C212.52,514.47 213.02,514.93 211.90,515.30 C210.78,515.67 207.48,515.93 205.60,516.30 C203.72,516.67 202.27,517.08 200.60,517.50 C198.93,517.92 196.85,518.43 195.60,518.80 C194.35,519.17 193.52,519.55 193.10,519.70 L193.10,519.70 C192.68,519.55 191.85,519.17 190.60,518.80 C189.35,518.43 187.27,517.92 185.60,517.50 C183.93,517.08 182.48,516.67 180.60,516.30 C178.72,515.93 175.42,515.67 174.30,515.30 C173.18,514.93 173.68,514.47 173.90,514.10 C174.12,513.73 173.97,513.47 175.60,513.10 C177.23,512.73 181.10,512.27 183.70,511.90 C186.30,511.53 189.63,511.22 191.20,510.90 C192.77,510.58 192.78,510.15 193.10,510.00Z"/></clipPath>
<rect x="143.10" y="511.60" width="100" height="4.30" fill="#7C96FF" fill-opacity="0.8" clip-path="url(#c15_1)"/>
<path d="M193.10,510.00 C193.42,510.15 193.43,510.58 195.00,510.90 C196.57,511.22 199.90,511.53 202.50,511.90 C205.10,512.27 208.97,512.73 210.60,513.10 C212.23,513.47 212.08,513.73 212.30,514.10 C212.52,514.47 213.02,514.93 211.90,515.30 C210.78,515.67 207.48,515.93 205.60,516.30 C203.72,516.67 202.27,517.08 200.60,517.50 C198.93,517.92 196.85,518.43 195.60,518.80 C194.35,519.17 193.52,519.55 193.10,519.70 L193.10,519.70 C192.68,519.55 191.85,519.17 190.60,518.80 C189.35,518.43 187.27,517.92 185.60,517.50 C183.93,517.08 182.48,516.67 180.60,516.30 C178.72,515.93 175.42,515.67 174.30,515.30 C173.18,514.93 173.68,514.47 173.90,514.10 C174.12,513.73 173.97,513.47 175.60,513.10 C177.23,512.73 181.10,512.27 183.70,511.90 C186.30,511.53 189.63,511.22 191.20,510.90 C192.77,510.58 192.78,510.15 193.10,510.00Z" fill="none" stroke="#7C96FF" stroke-width="1.45" stroke-linejoin="round"/>
<line x1="175.09" y1="513.40" x2="211.11" y2="513.40" stroke="#7C96FF" stroke-width="1.45"/>
<line x1="174.07" y1="514.60" x2="212.13" y2="514.60" stroke="#7C96FF" stroke-width="1.45"/>
<line x1="176.19" y1="515.60" x2="210.01" y2="515.60" stroke="#7C96FF" stroke-width="1.45"/>
<path d="M105.55,507.80 L105.55,507.00 L193.10,507.00 L193.10,507.80" fill="none" stroke="#1a1a1a" stroke-width="1.0"/>
<text x="149.12" y="509.00" font-size="12.75" text-anchor="middle" fill="#000">*</text>
<line x1="49.2" y1="496.30" x2="53.50" y2="496.30" stroke="#222" stroke-width="1.07"/>
<text x="46.4" y="500.60" font-size="10.67" text-anchor="end" fill="#000">1e+02</text>
<line x1="49.2" y1="519.10" x2="53.50" y2="519.10" stroke="#222" stroke-width="1.07"/>
<text x="46.4" y="523.40" font-size="10.67" text-anchor="end" fill="#000">1e-02</text>
<line x1="49.2" y1="541.90" x2="53.50" y2="541.90" stroke="#222" stroke-width="1.07"/>
<text x="46.4" y="546.20" font-size="10.67" text-anchor="end" fill="#000">1e-06</text>
<line x1="49.2" y1="564.70" x2="53.50" y2="564.70" stroke="#222" stroke-width="1.07"/>
<text x="46.4" y="569.00" font-size="10.67" text-anchor="end" fill="#000">1e-10</text>
<rect x="254.00" y="461.30" width="191.70" height="25.00" fill="#F2F2F2" stroke="#000" stroke-width="1.07"/>
<text transform="translate(349.85,478.60) scale(1,1.04)" x="0" y="0" font-size="12.75" text-anchor="middle" fill="#1A1A1A">Myeloid_dendritic_cell_resting</text>
<rect x="254.00" y="487.30" width="191.70" height="98.50" fill="#fff" stroke="#222" stroke-width="1.07"/>
<path d="M306.10,505.90 C306.25,506.35 305.78,507.68 307.00,508.60 C308.22,509.52 310.52,510.48 313.40,511.40 C316.28,512.32 321.12,513.12 324.30,514.10 C327.48,515.08 330.42,516.35 332.50,517.30 C334.58,518.25 336.80,518.97 336.80,519.80 C336.80,520.63 334.28,521.52 332.50,522.30 C330.72,523.08 328.00,523.67 326.10,524.50 C324.20,525.33 322.17,526.38 321.10,527.30 C320.03,528.22 319.62,529.10 319.70,530.00 C319.78,530.90 320.68,531.77 321.60,532.70 C322.52,533.63 325.05,534.68 325.20,535.60 C325.35,536.52 324.02,537.23 322.50,538.20 C320.98,539.17 318.23,540.35 316.10,541.40 C313.97,542.45 311.37,543.30 309.70,544.50 C308.03,545.70 306.70,547.92 306.10,548.60 L306.10,548.60 C305.50,547.92 304.17,545.70 302.50,544.50 C300.83,543.30 298.23,542.45 296.10,541.40 C293.97,540.35 291.22,539.17 289.70,538.20 C288.18,537.23 286.85,536.52 287.00,535.60 C287.15,534.68 289.68,533.63 290.60,532.70 C291.52,531.77 292.42,530.90 292.50,530.00 C292.58,529.10 292.17,528.22 291.10,527.30 C290.03,526.38 288.00,525.33 286.10,524.50 C284.20,523.67 281.48,523.08 279.70,522.30 C277.92,521.52 275.40,520.63 275.40,519.80 C275.40,518.97 277.62,518.25 279.70,517.30 C281.78,516.35 284.72,515.08 287.90,514.10 C291.08,513.12 295.92,512.32 298.80,511.40 C301.68,510.48 303.98,509.52 305.20,508.60 C306.42,507.68 305.95,506.35 306.10,505.90Z" fill="none" stroke="#B385FF" stroke-width="1.45" stroke-linejoin="round"/>
<line x1="276.09" y1="519.40" x2="336.11" y2="519.40" stroke="#B385FF" stroke-width="1.45"/>
<line x1="285.81" y1="524.40" x2="326.39" y2="524.40" stroke="#B385FF" stroke-width="1.45"/>
<line x1="289.98" y1="533.20" x2="322.22" y2="533.20" stroke="#B385FF" stroke-width="1.45"/>
<path d="M393.65,514.10 C393.88,514.48 393.53,515.65 395.05,516.40 C396.57,517.15 399.80,517.77 402.75,518.60 C405.70,519.43 410.18,520.57 412.75,521.40 C415.32,522.23 416.85,522.97 418.15,523.60 C419.45,524.23 420.85,524.58 420.55,525.20 C420.25,525.82 417.88,526.58 416.35,527.30 C414.82,528.02 410.88,528.82 411.35,529.50 C411.82,530.18 416.03,530.78 419.15,531.40 C422.27,532.02 427.33,532.60 430.05,533.20 C432.77,533.80 434.15,534.47 435.45,535.00 C436.75,535.53 438.45,535.87 437.85,536.40 C437.25,536.93 434.67,537.60 431.85,538.20 C429.03,538.80 424.73,539.40 420.95,540.00 C417.17,540.60 412.78,541.20 409.15,541.80 C405.52,542.40 401.73,542.98 399.15,543.60 C396.57,544.22 394.57,545.18 393.65,545.50 L393.65,545.50 C392.73,545.18 390.73,544.22 388.15,543.60 C385.57,542.98 381.78,542.40 378.15,541.80 C374.52,541.20 370.13,540.60 366.35,540.00 C362.57,539.40 358.27,538.80 355.45,538.20 C352.63,537.60 350.05,536.93 349.45,536.40 C348.85,535.87 350.55,535.53 351.85,535.00 C353.15,534.47 354.53,533.80 357.25,533.20 C359.97,532.60 365.03,532.02 368.15,531.40 C371.27,530.78 375.48,530.18 375.95,529.50 C376.42,528.82 372.48,528.02 370.95,527.30 C369.42,526.58 367.05,525.82 366.75,525.20 C366.45,524.58 367.85,524.23 369.15,523.60 C370.45,522.97 371.98,522.23 374.55,521.40 C377.12,520.57 381.60,519.43 384.55,518.60 C387.50,517.77 390.73,517.15 392.25,516.40 C393.77,515.65 393.42,514.48 393.65,514.10Z" fill="none" stroke="#B385FF" stroke-width="1.45" stroke-linejoin="round"/>
<line x1="369.15" y1="526.40" x2="418.15" y2="526.40" stroke="#B385FF" stroke-width="1.45"/>
<line x1="358.46" y1="533.00" x2="428.84" y2="533.00" stroke="#B385FF" stroke-width="1.45"/>
<line x1="350.12" y1="536.60" x2="437.18" y2="536.60" stroke="#B385FF" stroke-width="1.45"/>
<rect x="454.50" y="461.30" width="191.70" height="25.00" fill="#F2F2F2" stroke="#000" stroke-width="1.07"/>
<text transform="translate(550.35,478.60) scale(1,1.04)" x="0" y="0" font-size="12.75" text-anchor="middle" fill="#1A1A1A">Myeloid_dendritic_cell_activated</text>
<rect x="454.50" y="487.30" width="191.70" height="98.50" fill="#fff" stroke="#222" stroke-width="1.07"/>
<path d="M506.65,491.90 C506.70,492.82 506.78,495.62 506.95,497.40 C507.12,499.18 507.27,500.87 507.65,502.60 C508.03,504.33 508.65,506.07 509.25,507.80 C509.85,509.53 510.60,511.25 511.25,513.00 C511.90,514.75 512.57,516.55 513.15,518.30 C513.73,520.05 514.27,521.77 514.75,523.50 C515.23,525.23 515.70,526.65 516.05,528.70 C516.40,530.75 516.85,533.63 516.85,535.80 C516.85,537.97 516.48,539.85 516.05,541.70 C515.62,543.55 514.90,545.17 514.25,546.90 C513.60,548.63 512.82,550.37 512.15,552.10 C511.48,553.83 510.87,555.57 510.25,557.30 C509.63,559.03 508.93,560.77 508.45,562.50 C507.97,564.23 507.60,565.97 507.35,567.70 C507.10,569.43 507.07,570.72 506.95,572.90 C506.83,575.08 506.70,579.48 506.65,580.80 L506.65,580.80 C506.60,579.48 506.47,575.08 506.35,572.90 C506.23,570.72 506.20,569.43 505.95,567.70 C505.70,565.97 505.33,564.23 504.85,562.50 C504.37,560.77 503.67,559.03 503.05,557.30 C502.43,555.57 501.82,553.83 501.15,552.10 C500.48,550.37 499.70,548.63 499.05,546.90 C498.40,545.17 497.68,543.55 497.25,541.70 C496.82,539.85 496.45,537.97 496.45,535.80 C496.45,533.63 496.90,530.75 497.25,528.70 C497.60,526.65 498.07,525.23 498.55,523.50 C499.03,521.77 499.57,520.05 500.15,518.30 C500.73,516.55 501.40,514.75 502.05,513.00 C502.70,511.25 503.45,509.53 504.05,507.80 C504.65,506.07 505.27,504.33 505.65,502.60 C506.03,500.87 506.18,499.18 506.35,497.40 C506.52,495.62 506.60,492.82 506.65,491.90Z" fill="none" stroke="#D874FD" stroke-width="1.45" stroke-linejoin="round"/>
<line x1="497.90" y1="526.10" x2="515.40" y2="526.10" stroke="#D874FD" stroke-width="1.45"/>
<line x1="496.50" y1="536.20" x2="516.80" y2="536.20" stroke="#D874FD" stroke-width="1.45"/>
<line x1="498.95" y1="546.60" x2="514.35" y2="546.60" stroke="#D874FD" stroke-width="1.45"/>
<path d="M594.20,514.10 C594.35,514.55 594.18,515.90 595.10,516.80 C596.02,517.70 598.47,518.43 599.70,519.50 C600.93,520.57 602.35,522.05 602.50,523.20 C602.65,524.35 601.15,525.50 600.60,526.40 C600.05,527.30 598.60,527.92 599.20,528.60 C599.80,529.28 601.25,529.88 604.20,530.50 C607.15,531.12 612.50,531.70 616.90,532.30 C621.30,532.90 627.00,533.45 630.60,534.10 C634.20,534.75 638.50,535.52 638.50,536.20 C638.50,536.88 634.20,537.57 630.60,538.20 C627.00,538.83 621.30,539.40 616.90,540.00 C612.50,540.60 607.98,541.12 604.20,541.80 C600.42,542.48 595.87,543.72 594.20,544.10 L594.20,544.10 C592.53,543.72 587.98,542.48 584.20,541.80 C580.42,541.12 575.90,540.60 571.50,540.00 C567.10,539.40 561.40,538.83 557.80,538.20 C554.20,537.57 549.90,536.88 549.90,536.20 C549.90,535.52 554.20,534.75 557.80,534.10 C561.40,533.45 567.10,532.90 571.50,532.30 C575.90,531.70 581.25,531.12 584.20,530.50 C587.15,529.88 588.60,529.28 589.20,528.60 C589.80,527.92 588.35,527.30 587.80,526.40 C587.25,525.50 585.75,524.35 585.90,523.20 C586.05,522.05 587.47,520.57 588.70,519.50 C589.93,518.43 592.38,517.70 593.30,516.80 C594.22,515.90 594.05,514.55 594.20,514.10Z" fill="none" stroke="#D874FD" stroke-width="1.45" stroke-linejoin="round"/>
<line x1="575.03" y1="531.80" x2="613.37" y2="531.80" stroke="#D874FD" stroke-width="1.45"/>
<line x1="554.41" y1="535.00" x2="633.99" y2="535.00" stroke="#D874FD" stroke-width="1.45"/>
<line x1="552.27" y1="536.80" x2="636.13" y2="536.80" stroke="#D874FD" stroke-width="1.45"/>
<line x1="506.65" y1="585.80" x2="506.65" y2="589.50" stroke="#222" stroke-width="1.07"/>
<text x="506.65" y="603.40" font-size="13.2" text-anchor="middle" fill="#000">High</text>
<line x1="594.20" y1="585.80" x2="594.20" y2="589.50" stroke="#222" stroke-width="1.07"/>
<text x="594.20" y="603.40" font-size="13.2" text-anchor="middle" fill="#000">Low</text>
<rect x="655.00" y="461.30" width="191.70" height="25.00" fill="#F2F2F2" stroke="#000" stroke-width="1.07"/>
<text transform="translate(750.85,478.60) scale(1,1.04)" x="0" y="0" font-size="12.75" text-anchor="middle" fill="#1A1A1A">Mast_cell_activated</text>
<rect x="655.00" y="487.30" width="191.70" height="98.50" fill="#fff" stroke="#222" stroke-width="1.07"/>
<path d="M707.20,500.10 C707.27,500.68 707.27,502.63 707.60,503.60 C707.93,504.57 708.22,504.98 709.20,505.90 C710.18,506.82 711.88,508.05 713.50,509.10 C715.12,510.15 717.48,511.23 718.90,512.20 C720.32,513.17 721.18,513.93 722.00,514.90 C722.82,515.87 723.92,517.02 723.80,518.00 C723.68,518.98 722.63,519.88 721.30,520.80 C719.97,521.72 717.30,522.58 715.80,523.50 C714.30,524.42 713.02,525.45 712.30,526.30 C711.58,527.15 711.37,527.70 711.50,528.60 C711.63,529.50 712.42,530.60 713.10,531.70 C713.78,532.80 715.53,534.02 715.60,535.20 C715.67,536.38 714.38,537.68 713.50,538.80 C712.62,539.92 711.22,540.87 710.30,541.90 C709.38,542.93 708.52,543.70 708.00,545.00 C707.48,546.30 707.33,548.92 707.20,549.70 L707.20,549.70 C707.07,548.92 706.92,546.30 706.40,545.00 C705.88,543.70 705.02,542.93 704.10,541.90 C703.18,540.87 701.78,539.92 700.90,538.80 C700.02,537.68 698.73,536.38 698.80,535.20 C698.87,534.02 700.62,532.80 701.30,531.70 C701.98,530.60 702.77,529.50 702.90,528.60 C703.03,527.70 702.82,527.15 702.10,526.30 C701.38,525.45 700.10,524.42 698.60,523.50 C697.10,522.58 694.43,521.72 693.10,520.80 C691.77,519.88 690.72,518.98 690.60,518.00 C690.48,517.02 691.58,515.87 692.40,514.90 C693.22,513.93 694.08,513.17 695.50,512.20 C696.92,511.23 699.28,510.15 700.90,509.10 C702.52,508.05 704.22,506.82 705.20,505.90 C706.18,504.98 706.47,504.57 706.80,503.60 C707.13,502.63 707.13,500.68 707.20,500.10Z" fill="none" stroke="#EF67EB" stroke-width="1.45" stroke-linejoin="round"/>
<line x1="691.70" y1="516.10" x2="722.70" y2="516.10" stroke="#EF67EB" stroke-width="1.45"/>
<line x1="693.91" y1="521.20" x2="720.49" y2="521.20" stroke="#EF67EB" stroke-width="1.45"/>
<line x1="701.51" y1="531.30" x2="712.89" y2="531.30" stroke="#EF67EB" stroke-width="1.45"/>
<clipPath id="c18_1"><path d="M794.75,511.40 C795.35,511.62 794.57,512.25 798.35,512.70 C802.13,513.15 811.68,513.63 817.45,514.10 C823.22,514.57 829.38,515.00 832.95,515.50 C836.52,516.00 839.15,516.58 838.85,517.10 C838.55,517.62 835.02,518.03 831.15,518.60 C827.28,519.17 818.98,519.97 815.65,520.50 C812.32,521.03 813.12,521.35 811.15,521.80 C809.18,522.25 806.28,522.75 803.85,523.20 C801.42,523.65 798.01,524.05 796.55,524.50 C795.09,524.95 795.34,524.60 795.10,525.90 C794.86,527.20 794.56,530.93 795.10,532.30 C795.64,533.67 797.12,533.42 798.35,534.10 C799.58,534.78 802.45,535.72 802.45,536.40 C802.45,537.08 799.63,537.60 798.35,538.20 C797.07,538.80 795.35,539.70 794.75,540.00 L794.75,540.00 C794.15,539.70 792.43,538.80 791.15,538.20 C789.87,537.60 787.05,537.08 787.05,536.40 C787.05,535.72 789.92,534.78 791.15,534.10 C792.38,533.42 793.86,533.67 794.40,532.30 C794.94,530.93 794.64,527.20 794.40,525.90 C794.16,524.60 794.41,524.95 792.95,524.50 C791.49,524.05 788.08,523.65 785.65,523.20 C783.22,522.75 780.32,522.25 778.35,521.80 C776.38,521.35 777.18,521.03 773.85,520.50 C770.52,519.97 762.22,519.17 758.35,518.60 C754.48,518.03 750.95,517.62 750.65,517.10 C750.35,516.58 752.98,516.00 756.55,515.50 C760.12,515.00 766.28,514.57 772.05,514.10 C777.82,513.63 787.37,513.15 791.15,512.70 C794.93,512.25 794.15,511.62 794.75,511.40Z"/></clipPath>
<rect x="744.75" y="514.80" width="100" height="4.40" fill="#EF67EB" fill-opacity="0.25" clip-path="url(#c18_1)"/>
<path d="M794.75,511.40 C795.35,511.62 794.57,512.25 798.35,512.70 C802.13,513.15 811.68,513.63 817.45,514.10 C823.22,514.57 829.38,515.00 832.95,515.50 C836.52,516.00 839.15,516.58 838.85,517.10 C838.55,517.62 835.02,518.03 831.15,518.60 C827.28,519.17 818.98,519.97 815.65,520.50 C812.32,521.03 813.12,521.35 811.15,521.80 C809.18,522.25 806.28,522.75 803.85,523.20 C801.42,523.65 798.01,524.05 796.55,524.50 C795.09,524.95 795.34,524.60 795.10,525.90 C794.86,527.20 794.56,530.93 795.10,532.30 C795.64,533.67 797.12,533.42 798.35,534.10 C799.58,534.78 802.45,535.72 802.45,536.40 C802.45,537.08 799.63,537.60 798.35,538.20 C797.07,538.80 795.35,539.70 794.75,540.00 L794.75,540.00 C794.15,539.70 792.43,538.80 791.15,538.20 C789.87,537.60 787.05,537.08 787.05,536.40 C787.05,535.72 789.92,534.78 791.15,534.10 C792.38,533.42 793.86,533.67 794.40,532.30 C794.94,530.93 794.64,527.20 794.40,525.90 C794.16,524.60 794.41,524.95 792.95,524.50 C791.49,524.05 788.08,523.65 785.65,523.20 C783.22,522.75 780.32,522.25 778.35,521.80 C776.38,521.35 777.18,521.03 773.85,520.50 C770.52,519.97 762.22,519.17 758.35,518.60 C754.48,518.03 750.95,517.62 750.65,517.10 C750.35,516.58 752.98,516.00 756.55,515.50 C760.12,515.00 766.28,514.57 772.05,514.10 C777.82,513.63 787.37,513.15 791.15,512.70 C794.93,512.25 794.15,511.62 794.75,511.40Z" fill="none" stroke="#EF67EB" stroke-width="1.45" stroke-linejoin="round"/>
<line x1="755.08" y1="515.90" x2="834.42" y2="515.90" stroke="#EF67EB" stroke-width="1.45"/>
<line x1="753.73" y1="517.70" x2="835.77" y2="517.70" stroke="#EF67EB" stroke-width="1.45"/>
<line x1="765.69" y1="519.50" x2="823.81" y2="519.50" stroke="#EF67EB" stroke-width="1.45"/>
<line x1="707.20" y1="585.80" x2="707.20" y2="589.50" stroke="#222" stroke-width="1.07"/>
<text x="707.20" y="603.40" font-size="13.2" text-anchor="middle" fill="#000">High</text>
<line x1="794.75" y1="585.80" x2="794.75" y2="589.50" stroke="#222" stroke-width="1.07"/>
<text x="794.75" y="603.40" font-size="13.2" text-anchor="middle" fill="#000">Low</text>
<rect x="855.50" y="461.30" width="191.70" height="25.00" fill="#F2F2F2" stroke="#000" stroke-width="1.07"/>
<text transform="translate(951.35,478.60) scale(1,1.04)" x="0" y="0" font-size="12.75" text-anchor="middle" fill="#1A1A1A">Mast_cell_resting</text>
<rect x="855.50" y="487.30" width="191.70" height="98.50" fill="#fff" stroke="#222" stroke-width="1.07"/>
<path d="M907.75,504.10 C907.83,504.63 907.65,506.32 908.25,507.30 C908.85,508.28 909.77,508.95 911.35,510.00 C912.93,511.05 916.15,512.53 917.75,513.60 C919.35,514.67 920.32,515.52 920.95,516.40 C921.58,517.28 921.93,518.07 921.55,518.90 C921.17,519.73 919.82,520.58 918.65,521.40 C917.48,522.22 915.45,522.97 914.55,523.80 C913.65,524.63 912.72,525.60 913.25,526.40 C913.78,527.20 915.63,527.85 917.75,528.60 C919.87,529.35 923.37,530.13 925.95,530.90 C928.53,531.67 931.28,532.28 933.25,533.20 C935.22,534.12 937.75,535.42 937.75,536.40 C937.75,537.38 935.52,538.20 933.25,539.10 C930.98,540.00 927.03,540.90 924.15,541.80 C921.27,542.70 918.38,543.58 915.95,544.50 C913.52,545.42 910.92,546.47 909.55,547.30 C908.18,548.13 908.05,549.13 907.75,549.50 L907.75,549.50 C907.45,549.13 907.32,548.13 905.95,547.30 C904.58,546.47 901.98,545.42 899.55,544.50 C897.12,543.58 894.23,542.70 891.35,541.80 C888.47,540.90 884.52,540.00 882.25,539.10 C879.98,538.20 877.75,537.38 877.75,536.40 C877.75,535.42 880.28,534.12 882.25,533.20 C884.22,532.28 886.97,531.67 889.55,530.90 C892.13,530.13 895.63,529.35 897.75,528.60 C899.87,527.85 901.72,527.20 902.25,526.40 C902.78,525.60 901.85,524.63 900.95,523.80 C900.05,522.97 898.02,522.22 896.85,521.40 C895.68,520.58 894.33,519.73 893.95,518.90 C893.57,518.07 893.92,517.28 894.55,516.40 C895.18,515.52 896.15,514.67 897.75,513.60 C899.35,512.53 902.57,511.05 904.15,510.00 C905.73,508.95 906.65,508.28 907.25,507.30 C907.85,506.32 907.67,504.63 907.75,504.10Z" fill="none" stroke="#FD61D3" stroke-width="1.45" stroke-linejoin="round"/>
<line x1="898.39" y1="522.30" x2="917.11" y2="522.30" stroke="#FD61D3" stroke-width="1.45"/>
<line x1="881.41" y1="533.80" x2="934.09" y2="533.80" stroke="#FD61D3" stroke-width="1.45"/>
<line x1="879.58" y1="537.50" x2="935.92" y2="537.50" stroke="#FD61D3" stroke-width="1.45"/>
<path d="M995.30,508.20 C995.45,508.73 995.28,510.35 996.20,511.40 C997.12,512.45 999.52,513.37 1000.80,514.50 C1002.08,515.63 1003.30,517.10 1003.90,518.20 C1004.50,519.30 1004.77,520.12 1004.40,521.10 C1004.03,522.08 1002.30,523.07 1001.70,524.10 C1001.10,525.13 1000.20,526.47 1000.80,527.30 C1001.40,528.13 1002.43,528.50 1005.30,529.10 C1008.17,529.70 1013.60,530.22 1018.00,530.90 C1022.40,531.58 1028.10,532.32 1031.70,533.20 C1035.30,534.08 1039.60,535.30 1039.60,536.20 C1039.60,537.10 1035.30,537.82 1031.70,538.60 C1028.10,539.38 1022.55,540.07 1018.00,540.90 C1013.45,541.73 1008.18,542.68 1004.40,543.60 C1000.62,544.52 996.82,545.93 995.30,546.40 L995.30,546.40 C993.78,545.93 989.98,544.52 986.20,543.60 C982.42,542.68 977.15,541.73 972.60,540.90 C968.05,540.07 962.50,539.38 958.90,538.60 C955.30,537.82 951.00,537.10 951.00,536.20 C951.00,535.30 955.30,534.08 958.90,533.20 C962.50,532.32 968.20,531.58 972.60,530.90 C977.00,530.22 982.43,529.70 985.30,529.10 C988.17,528.50 989.20,528.13 989.80,527.30 C990.40,526.47 989.50,525.13 988.90,524.10 C988.30,523.07 986.57,522.08 986.20,521.10 C985.83,520.12 986.10,519.30 986.70,518.20 C987.30,517.10 988.52,515.63 989.80,514.50 C991.08,513.37 993.48,512.45 994.40,511.40 C995.32,510.35 995.15,508.73 995.30,508.20Z" fill="none" stroke="#FD61D3" stroke-width="1.45" stroke-linejoin="round"/>
<line x1="975.42" y1="530.50" x2="1015.18" y2="530.50" stroke="#FD61D3" stroke-width="1.45"/>
<line x1="955.48" y1="534.50" x2="1035.12" y2="534.50" stroke="#FD61D3" stroke-width="1.45"/>
<line x1="956.92" y1="538.00" x2="1033.67" y2="538.00" stroke="#FD61D3" stroke-width="1.45"/>
<line x1="907.75" y1="585.80" x2="907.75" y2="589.50" stroke="#222" stroke-width="1.07"/>
<text x="907.75" y="603.40" font-size="13.2" text-anchor="middle" fill="#000">High</text>
<line x1="995.30" y1="585.80" x2="995.30" y2="589.50" stroke="#222" stroke-width="1.07"/>
<text x="995.30" y="603.40" font-size="13.2" text-anchor="middle" fill="#000">Low</text>
<rect x="53.50" y="594.90" width="191.70" height="25.00" fill="#F2F2F2" stroke="#000" stroke-width="1.07"/>
<text transform="translate(149.35,612.20) scale(1,1.04)" x="0" y="0" font-size="12.75" text-anchor="middle" fill="#1A1A1A">Eosinophil</text>
<rect x="53.50" y="620.90" width="191.70" height="98.50" fill="#fff" stroke="#222" stroke-width="1.07"/>
<path d="M105.55,625.30 C105.75,625.90 106.42,627.65 106.75,628.90 C107.08,630.15 107.15,631.50 107.55,632.80 C107.95,634.10 108.44,635.50 109.15,636.70 C109.86,637.90 110.70,638.92 111.80,640.00 C112.90,641.08 114.26,642.12 115.75,643.20 C117.24,644.28 119.08,645.42 120.75,646.50 C122.42,647.58 123.98,648.62 125.75,649.70 C127.52,650.78 129.55,651.90 131.35,653.00 C133.15,654.10 135.22,655.38 136.55,656.30 C137.88,657.22 138.35,657.75 139.35,658.50 C140.35,659.25 141.43,659.98 142.55,660.80 C143.67,661.62 145.05,662.42 146.05,663.40 C147.05,664.38 147.98,665.62 148.55,666.70 C149.12,667.78 149.45,668.83 149.45,669.90 C149.45,670.97 149.12,672.02 148.55,673.10 C147.98,674.18 147.05,675.42 146.05,676.40 C145.05,677.38 143.67,678.18 142.55,679.00 C141.43,679.82 140.35,680.55 139.35,681.30 C138.35,682.05 137.88,682.58 136.55,683.50 C135.22,684.42 133.15,685.70 131.35,686.80 C129.55,687.90 127.52,689.02 125.75,690.10 C123.98,691.18 122.42,692.22 120.75,693.30 C119.08,694.38 117.24,695.52 115.75,696.60 C114.26,697.68 112.90,698.72 111.80,699.80 C110.70,700.88 109.86,701.95 109.15,703.10 C108.44,704.25 107.95,705.45 107.55,706.70 C107.15,707.95 107.08,709.35 106.75,710.60 C106.42,711.85 105.75,713.60 105.55,714.20 L105.55,714.20 C105.35,713.60 104.68,711.85 104.35,710.60 C104.02,709.35 103.95,707.95 103.55,706.70 C103.15,705.45 102.66,704.25 101.95,703.10 C101.24,701.95 100.40,700.88 99.30,699.80 C98.20,698.72 96.84,697.68 95.35,696.60 C93.86,695.52 92.02,694.38 90.35,693.30 C88.68,692.22 87.12,691.18 85.35,690.10 C83.58,689.02 81.55,687.90 79.75,686.80 C77.95,685.70 75.88,684.42 74.55,683.50 C73.22,682.58 72.75,682.05 71.75,681.30 C70.75,680.55 69.67,679.82 68.55,679.00 C67.43,678.18 66.05,677.38 65.05,676.40 C64.05,675.42 63.12,674.18 62.55,673.10 C61.98,672.02 61.65,670.97 61.65,669.90 C61.65,668.83 61.98,667.78 62.55,666.70 C63.12,665.62 64.05,664.38 65.05,663.40 C66.05,662.42 67.43,661.62 68.55,660.80 C69.67,659.98 70.75,659.25 71.75,658.50 C72.75,657.75 73.22,657.22 74.55,656.30 C75.88,655.38 77.95,654.10 79.75,653.00 C81.55,651.90 83.58,650.78 85.35,649.70 C87.12,648.62 88.68,647.58 90.35,646.50 C92.02,645.42 93.86,644.28 95.35,643.20 C96.84,642.12 98.20,641.08 99.30,640.00 C100.40,638.92 101.24,637.90 101.95,636.70 C102.66,635.50 103.15,634.10 103.55,632.80 C103.95,631.50 104.02,630.15 104.35,628.90 C104.68,627.65 105.35,625.90 105.55,625.30Z" fill="none" stroke="#FF63B6" stroke-width="1.45" stroke-linejoin="round"/>
<line x1="69.80" y1="659.90" x2="141.30" y2="659.90" stroke="#FF63B6" stroke-width="1.45"/>
<line x1="61.65" y1="669.90" x2="149.45" y2="669.90" stroke="#FF63B6" stroke-width="1.45"/>
<line x1="69.94" y1="680.00" x2="141.16" y2="680.00" stroke="#FF63B6" stroke-width="1.45"/>
<path d="M193.10,624.19 C193.30,624.80 193.95,626.59 194.28,627.87 C194.61,629.15 194.67,630.54 195.06,631.87 C195.45,633.20 195.94,634.64 196.63,635.87 C197.32,637.10 198.14,638.14 199.22,639.25 C200.30,640.36 201.64,641.42 203.10,642.53 C204.56,643.64 206.37,644.81 208.00,645.92 C209.63,647.03 211.17,648.09 212.90,649.20 C214.63,650.31 216.62,651.45 218.38,652.58 C220.14,653.71 222.17,655.02 223.48,655.96 C224.79,656.90 225.24,657.44 226.22,658.21 C227.20,658.98 228.26,659.73 229.36,660.57 C230.45,661.41 231.81,662.23 232.79,663.24 C233.77,664.25 234.69,665.51 235.24,666.62 C235.80,667.73 236.12,668.81 236.12,669.90 C236.12,670.99 235.80,672.07 235.24,673.18 C234.69,674.29 233.77,675.55 232.79,676.56 C231.81,677.57 230.45,678.39 229.36,679.23 C228.26,680.07 227.20,680.82 226.22,681.59 C225.24,682.36 224.79,682.90 223.48,683.84 C222.17,684.78 220.14,686.09 218.38,687.22 C216.62,688.35 214.63,689.49 212.90,690.60 C211.17,691.71 209.63,692.78 208.00,693.89 C206.37,695.00 204.56,696.16 203.10,697.27 C201.64,698.38 200.30,699.44 199.22,700.55 C198.14,701.66 197.32,702.75 196.63,703.93 C195.94,705.11 195.45,706.34 195.06,707.62 C194.67,708.90 194.61,710.34 194.28,711.62 C193.95,712.90 193.30,714.69 193.10,715.31 L193.10,715.31 C192.90,714.69 192.25,712.90 191.92,711.62 C191.59,710.34 191.53,708.90 191.14,707.62 C190.75,706.34 190.26,705.11 189.57,703.93 C188.88,702.75 188.06,701.66 186.98,700.55 C185.90,699.44 184.56,698.38 183.10,697.27 C181.64,696.16 179.83,695.00 178.20,693.89 C176.57,692.78 175.03,691.71 173.30,690.60 C171.57,689.49 169.58,688.35 167.82,687.22 C166.06,686.09 164.03,684.78 162.72,683.84 C161.41,682.90 160.96,682.36 159.98,681.59 C159.00,680.82 157.94,680.07 156.84,679.23 C155.75,678.39 154.39,677.57 153.41,676.56 C152.43,675.55 151.51,674.29 150.96,673.18 C150.40,672.07 150.08,670.99 150.08,669.90 C150.08,668.81 150.40,667.73 150.96,666.62 C151.51,665.51 152.43,664.25 153.41,663.24 C154.39,662.23 155.75,661.41 156.84,660.57 C157.94,659.73 159.00,658.98 159.98,658.21 C160.96,657.44 161.41,656.90 162.72,655.96 C164.03,655.02 166.06,653.71 167.82,652.58 C169.58,651.45 171.57,650.31 173.30,649.20 C175.03,648.09 176.57,647.03 178.20,645.92 C179.83,644.81 181.64,643.64 183.10,642.53 C184.56,641.42 185.90,640.36 186.98,639.25 C188.06,638.14 188.88,637.10 189.57,635.87 C190.26,634.64 190.75,633.20 191.14,631.87 C191.53,630.54 191.59,629.15 191.92,627.87 C192.25,626.59 192.90,624.80 193.10,624.19Z" fill="none" stroke="#FF63B6" stroke-width="1.45" stroke-linejoin="round"/>
<line x1="157.73" y1="659.90" x2="228.47" y2="659.90" stroke="#FF63B6" stroke-width="1.45"/>
<line x1="150.08" y1="669.90" x2="236.12" y2="669.90" stroke="#FF63B6" stroke-width="1.45"/>
<line x1="158.13" y1="680.20" x2="228.07" y2="680.20" stroke="#FF63B6" stroke-width="1.45"/>
<line x1="49.2" y1="629.90" x2="53.50" y2="629.90" stroke="#222" stroke-width="1.07"/>
<text x="46.4" y="634.20" font-size="10.67" text-anchor="end" fill="#000">1e+02</text>
<line x1="49.2" y1="652.70" x2="53.50" y2="652.70" stroke="#222" stroke-width="1.07"/>
<text x="46.4" y="657.00" font-size="10.67" text-anchor="end" fill="#000">1e-02</text>
<line x1="49.2" y1="675.50" x2="53.50" y2="675.50" stroke="#222" stroke-width="1.07"/>
<text x="46.4" y="679.80" font-size="10.67" text-anchor="end" fill="#000">1e-06</text>
<line x1="49.2" y1="698.30" x2="53.50" y2="698.30" stroke="#222" stroke-width="1.07"/>
<text x="46.4" y="702.60" font-size="10.67" text-anchor="end" fill="#000">1e-10</text>
<line x1="105.55" y1="719.40" x2="105.55" y2="723.10" stroke="#222" stroke-width="1.07"/>
<text x="105.55" y="737.00" font-size="13.2" text-anchor="middle" fill="#000">High</text>
<line x1="193.10" y1="719.40" x2="193.10" y2="723.10" stroke="#222" stroke-width="1.07"/>
<text x="193.10" y="737.00" font-size="13.2" text-anchor="middle" fill="#000">Low</text>
<rect x="254.00" y="594.90" width="191.70" height="25.00" fill="#F2F2F2" stroke="#000" stroke-width="1.07"/>
<text transform="translate(349.85,612.20) scale(1,1.04)" x="0" y="0" font-size="12.75" text-anchor="middle" fill="#1A1A1A">Neutrophil</text>
<rect x="254.00" y="620.90" width="191.70" height="98.50" fill="#fff" stroke="#222" stroke-width="1.07"/>
<clipPath id="c21_0"><path d="M306.10,653.20 C306.33,653.50 306.92,654.17 307.50,655.00 C308.08,655.83 309.60,657.22 309.60,658.20 C309.60,659.18 308.00,660.07 307.50,660.90 C307.00,661.73 306.68,662.52 306.60,663.20 C306.52,663.88 305.57,664.47 307.00,665.00 C308.43,665.53 310.80,665.95 315.20,666.40 C319.60,666.85 327.53,667.15 333.40,667.70 C339.27,668.25 350.40,669.08 350.40,669.70 C350.40,670.32 338.97,670.90 333.40,671.40 C327.83,671.90 321.10,672.25 317.00,672.70 C312.90,673.15 310.62,673.72 308.80,674.10 C306.98,674.48 306.55,674.85 306.10,675.00 L306.10,675.00 C305.65,674.85 305.22,674.48 303.40,674.10 C301.58,673.72 299.30,673.15 295.20,672.70 C291.10,672.25 284.37,671.90 278.80,671.40 C273.23,670.90 261.80,670.32 261.80,669.70 C261.80,669.08 272.93,668.25 278.80,667.70 C284.67,667.15 292.60,666.85 297.00,666.40 C301.40,665.95 303.77,665.53 305.20,665.00 C306.63,664.47 305.68,663.88 305.60,663.20 C305.52,662.52 305.20,661.73 304.70,660.90 C304.20,660.07 302.60,659.18 302.60,658.20 C302.60,657.22 304.12,655.83 304.70,655.00 C305.28,654.17 305.87,653.50 306.10,653.20Z"/></clipPath>
<rect x="256.10" y="667.60" width="100" height="3.80" fill="#FF6B94" fill-opacity="0.6" clip-path="url(#c21_0)"/>
<path d="M306.10,653.20 C306.33,653.50 306.92,654.17 307.50,655.00 C308.08,655.83 309.60,657.22 309.60,658.20 C309.60,659.18 308.00,660.07 307.50,660.90 C307.00,661.73 306.68,662.52 306.60,663.20 C306.52,663.88 305.57,664.47 307.00,665.00 C308.43,665.53 310.80,665.95 315.20,666.40 C319.60,666.85 327.53,667.15 333.40,667.70 C339.27,668.25 350.40,669.08 350.40,669.70 C350.40,670.32 338.97,670.90 333.40,671.40 C327.83,671.90 321.10,672.25 317.00,672.70 C312.90,673.15 310.62,673.72 308.80,674.10 C306.98,674.48 306.55,674.85 306.10,675.00 L306.10,675.00 C305.65,674.85 305.22,674.48 303.40,674.10 C301.58,673.72 299.30,673.15 295.20,672.70 C291.10,672.25 284.37,671.90 278.80,671.40 C273.23,670.90 261.80,670.32 261.80,669.70 C261.80,669.08 272.93,668.25 278.80,667.70 C284.67,667.15 292.60,666.85 297.00,666.40 C301.40,665.95 303.77,665.53 305.20,665.00 C306.63,664.47 305.68,663.88 305.60,663.20 C305.52,662.52 305.20,661.73 304.70,660.90 C304.20,660.07 302.60,659.18 302.60,658.20 C302.60,657.22 304.12,655.83 304.70,655.00 C305.28,654.17 305.87,653.50 306.10,653.20Z" fill="none" stroke="#FF6B94" stroke-width="1.45" stroke-linejoin="round"/>
<line x1="272.00" y1="668.50" x2="340.20" y2="668.50" stroke="#FF6B94" stroke-width="1.45"/>
<line x1="261.80" y1="669.70" x2="350.40" y2="669.70" stroke="#FF6B94" stroke-width="1.45"/>
<line x1="271.80" y1="670.70" x2="340.40" y2="670.70" stroke="#FF6B94" stroke-width="1.45"/>
<path d="M393.65,648.80 C393.75,649.15 393.78,650.18 394.25,650.90 C394.72,651.62 395.77,652.32 396.45,653.10 C397.13,653.88 398.08,654.77 398.35,655.60 C398.62,656.43 398.00,657.27 398.05,658.10 C398.10,658.93 398.40,659.77 398.65,660.60 C398.90,661.43 398.82,662.32 399.55,663.10 C400.28,663.88 401.43,664.57 403.05,665.30 C404.67,666.03 407.72,666.77 409.25,667.50 C410.78,668.23 412.55,669.02 412.25,669.70 C411.95,670.38 409.40,670.92 407.45,671.60 C405.50,672.28 402.53,673.08 400.55,673.80 C398.57,674.52 396.70,675.28 395.55,675.90 C394.40,676.52 393.97,677.23 393.65,677.50 L393.65,677.50 C393.33,677.23 392.90,676.52 391.75,675.90 C390.60,675.28 388.73,674.52 386.75,673.80 C384.77,673.08 381.80,672.28 379.85,671.60 C377.90,670.92 375.35,670.38 375.05,669.70 C374.75,669.02 376.52,668.23 378.05,667.50 C379.58,666.77 382.63,666.03 384.25,665.30 C385.87,664.57 387.02,663.88 387.75,663.10 C388.48,662.32 388.40,661.43 388.65,660.60 C388.90,659.77 389.20,658.93 389.25,658.10 C389.30,657.27 388.68,656.43 388.95,655.60 C389.22,654.77 390.17,653.88 390.85,653.10 C391.53,652.32 392.58,651.62 393.05,650.90 C393.52,650.18 393.55,649.15 393.65,648.80Z" fill="none" stroke="#FF6B94" stroke-width="1.45" stroke-linejoin="round"/>
<line x1="387.75" y1="663.10" x2="399.55" y2="663.10" stroke="#FF6B94" stroke-width="1.45"/>
<line x1="377.64" y1="667.80" x2="409.66" y2="667.80" stroke="#FF6B94" stroke-width="1.45"/>
<line x1="377.32" y1="670.60" x2="409.98" y2="670.60" stroke="#FF6B94" stroke-width="1.45"/>
<line x1="306.10" y1="719.40" x2="306.10" y2="723.10" stroke="#222" stroke-width="1.07"/>
<text x="306.10" y="737.00" font-size="13.2" text-anchor="middle" fill="#000">High</text>
<line x1="393.65" y1="719.40" x2="393.65" y2="723.10" stroke="#222" stroke-width="1.07"/>
<text x="393.65" y="737.00" font-size="13.2" text-anchor="middle" fill="#000">Low</text>
</svg></body></html>
